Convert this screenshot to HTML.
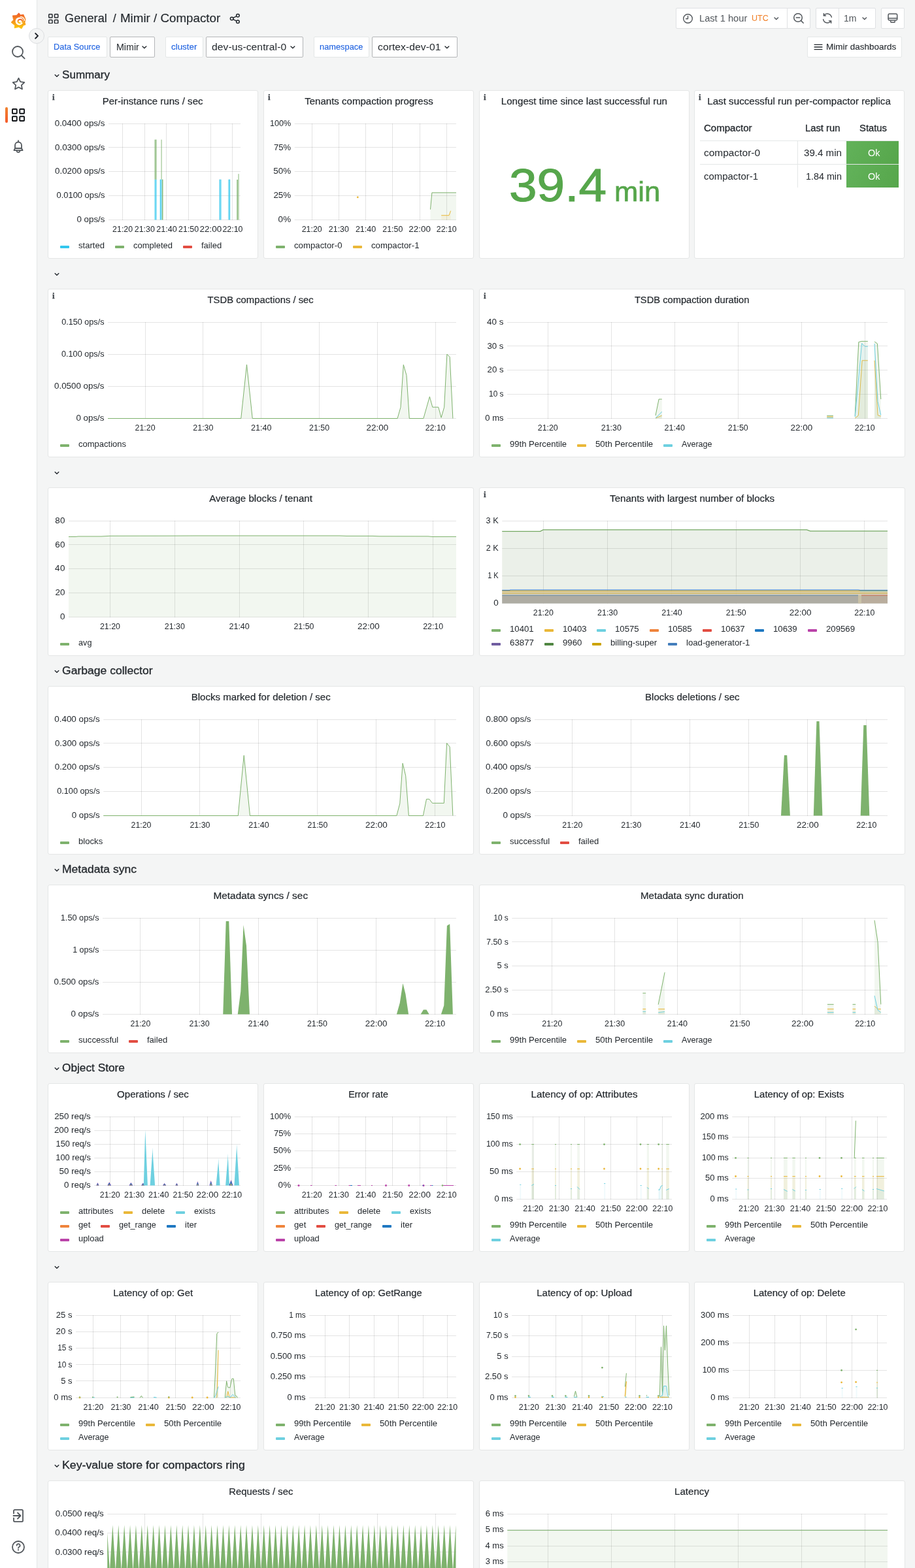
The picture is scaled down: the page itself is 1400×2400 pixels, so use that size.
<!DOCTYPE html><html lang="en"><head><meta charset="utf-8"><title>Mimir / Compactor - Grafana</title>
<meta name="viewport" content="width=1400"><style>
*{box-sizing:border-box;margin:0;padding:0}
html,body{width:1400px;height:2400px;overflow:hidden;background:#f4f5f5}
body{font-family:"Liberation Sans",sans-serif;color:#24292e;font-size:14px;position:relative}
.t{position:absolute;white-space:nowrap;transform-origin:0 0}
.sidemenu{position:absolute;left:0;top:0;width:57px;height:2400px;background:#fff;border-right:1px solid #e4e7e7}
.sidemenu svg{position:absolute}
.sidemenu .active{position:absolute;left:8px;top:164px;width:4px;height:24px;border-radius:2px;background:linear-gradient(#f0832f,#f55a2a)}
.toggle{position:absolute;left:44px;top:43px;width:24px;height:24px;border-radius:50%;background:#f4f5f5;border:1px solid #dcdee0}
.toggle svg{position:absolute;left:0;top:0}
.main{position:absolute;left:0;top:0;width:1400px;height:2400px}
.navbar svg,.submenu svg{position:absolute}
.btn{position:absolute;height:32px;background:#fff;border:1px solid #dfe1e3;border-radius:2px}
.lbl{position:absolute;top:56px;height:32px;background:#fff;border:1px solid #e4e7e7;border-radius:2px}
.sel{position:absolute;top:56px;height:32px;background:#fff;border:1px solid #b4b6b8;border-radius:2px}
.rowt{position:absolute;left:73px;height:30px;width:1311px}
.rowt svg{position:absolute;left:9px;top:12px}
.panel{position:absolute;background:#fff;border:1px solid #e4e6e6;border-radius:3px;overflow:hidden}
.ptitle{position:absolute;left:0;top:2px;width:100%;height:28px;line-height:28px;font-size:14px;font-weight:normal;text-align:center;white-space:nowrap;color:#24292e;-webkit-text-stroke:.2px}
.info{position:absolute;left:6px;top:3px;font-family:"Liberation Serif","DejaVu Serif",serif;font-weight:bold;font-size:13px;line-height:14px;color:#464b51;-webkit-text-stroke:.35px;top:3px}
.plot{position:absolute;left:-1px;top:-1px;font-family:"Liberation Sans",sans-serif}
.legend{position:absolute;left:18px;height:18px;list-style:none;white-space:nowrap;font-size:12px;line-height:18px;color:#24292e}
.legend li{display:inline-block;vertical-align:top;height:18px;white-space:nowrap}
.legend i{display:inline-block;vertical-align:top;width:14px;height:4px;margin:9px 14px 0 0;border-radius:1px}
.legend span{display:inline-block;vertical-align:top}
.legend b{display:inline-block;font-weight:normal;transform-origin:0 0;white-space:nowrap}
.ptitle span{display:inline-block;white-space:nowrap}
.stat .t{-webkit-text-stroke:1.1px #56a64b}
.stat .t+.t{-webkit-text-stroke:.7px #56a64b}
.tbl div{position:absolute}
.tbl .th{left:8px;width:304px;height:38px;border-bottom:1px solid #e4e7e7}
.tbl .tr{left:8px;width:304px;height:37px;border-bottom:1px solid #e4e7e7}
.tbl .vb{width:1px;background:#e4e7e7}
.tbl .ok{width:80px;height:35px;background:linear-gradient(120deg,#62b25a,#56a64b)}
</style></head><body>
<div class="main">
<header class="navbar"><svg style="left:74px;top:20.5px" width="15.5" height="15.5" viewBox="0 0 15.5 15.5"><rect x="0.75" y="0.75" width="5.24" height="5.24" rx="0.8" fill="none" stroke="#24292e" stroke-width="1.5"/><rect x="0.75" y="9.51" width="5.24" height="5.24" rx="0.8" fill="none" stroke="#24292e" stroke-width="1.5"/><rect x="9.51" y="0.75" width="5.24" height="5.24" rx="0.8" fill="none" stroke="#24292e" stroke-width="1.5"/><rect x="9.51" y="9.51" width="5.24" height="5.24" rx="0.8" fill="none" stroke="#24292e" stroke-width="1.5"/></svg><span class="t" style="left:99.4px;top:17px;font-size:18px;line-height:22px;color:#24292e;transform:scaleX(1.012);-webkit-text-stroke:0.15px">General</span><span class="t" style="left:172.8px;top:17px;font-size:18px;line-height:22px;color:#24292e;-webkit-text-stroke:0.15px">/</span><span class="t" style="left:183.6px;top:17px;font-size:18px;line-height:22px;color:#24292e;transform:scaleX(1.042);-webkit-text-stroke:0.15px">Mimir / Compactor</span><svg style="left:350.5px;top:19.5px" width="17" height="17" viewBox="0 0 17 17"><circle cx="12.9" cy="3.7" r="2.3" fill="none" stroke="#24292e" stroke-width="1.5"/><circle cx="3.7" cy="8.5" r="2.3" fill="none" stroke="#24292e" stroke-width="1.5"/><circle cx="12.9" cy="13.3" r="2.3" fill="none" stroke="#24292e" stroke-width="1.5"/><path d="M5.8 7.400L10.8 4.800M5.8 9.600L10.8 12.2" stroke="#24292e" stroke-width="1.5"/></svg><div class="btn" style="left:1034px;top:12px;width:171px;border-radius:2px 0 0 2px"></div><svg style="left:1043.5px;top:19.5px" width="17" height="17" viewBox="0 0 17 17"><circle cx="8.5" cy="8.5" r="6.8" fill="none" stroke="#52575c" stroke-width="1.4"/><path d="M8.5 4.600V8.700H5.6" fill="none" stroke="#52575c" stroke-width="1.4" stroke-linecap="round" stroke-linejoin="round"/></svg><span class="t" style="left:1069.6px;top:19px;font-size:14px;line-height:18px;color:#52575c;transform:scaleX(1.046)">Last 1 hour</span><span class="t" style="left:1149.5px;top:20px;font-size:12px;line-height:16px;color:#f07d23;transform:scaleX(1.042)">UTC</span><svg style="left:1184.3px;top:25.7px" width="7.6" height="5.2" viewBox="0 0 7.6 5.2"><path d="M1 1L3.8 3.8L6.6 1" fill="none" stroke="#52575c" stroke-width="1.4" stroke-linecap="round" stroke-linejoin="round"/></svg><div class="btn" style="left:1204px;top:12px;width:36px;border-radius:0 2px 2px 0"></div><svg style="left:1213px;top:19px" width="18" height="18" viewBox="0 0 18 18"><circle cx="8" cy="8" r="6.3" fill="none" stroke="#52575c" stroke-width="1.5"/><path d="M12.6 12.600L16.2 16.200M5.2 8H10.8" stroke="#52575c" stroke-width="1.5" stroke-linecap="round"/></svg><div class="btn" style="left:1248px;top:12px;width:36px;border-radius:2px 0 0 2px"></div><svg style="left:1257px;top:19px" width="18" height="18" viewBox="0 0 18 18"><path d="M15.3 7.200A6.6 6.6 0 0 0 3.6 4.600M2.7 10.800A6.6 6.6 0 0 0 14.4 13.4" fill="none" stroke="#52575c" stroke-width="1.5" stroke-linecap="round"/><path d="M3.4 1.800V4.900H6.500M14.6 16.200V13.100H11.5" fill="none" stroke="#52575c" stroke-width="1.5" stroke-linecap="round" stroke-linejoin="round"/></svg><div class="btn" style="left:1283px;top:12px;width:57px;border-radius:0 2px 2px 0"></div><span class="t" style="left:1291.4px;top:19px;font-size:14px;line-height:18px;color:#52575c;transform:scaleX(1.003)">1m</span><svg style="left:1319.3px;top:25.7px" width="7.6" height="5.2" viewBox="0 0 7.6 5.2"><path d="M1 1L3.8 3.8L6.6 1" fill="none" stroke="#52575c" stroke-width="1.4" stroke-linecap="round" stroke-linejoin="round"/></svg><div class="btn" style="left:1348px;top:12px;width:36px"></div><svg style="left:1357px;top:19px" width="18" height="18" viewBox="0 0 18 18"><rect x="2.1" y="2.3" width="13.6" height="9.6" rx="1.6" fill="none" stroke="#52575c" stroke-width="1.5"/><path d="M2.3 9.1H15.7M5.8 13.3V14.3a.9.9 0 0 0 .9.9H11.3a.9.9 0 0 0 .9-.9V13.3" fill="none" stroke="#52575c" stroke-width="1.5" stroke-linecap="round"/></svg></header>
<div class="submenu"><div class="lbl" style="left:73px;width:91px"></div><span class="t" style="left:82.3px;top:64px;font-size:12px;line-height:16px;color:#1f62e0;transform:scaleX(1.070);-webkit-text-stroke:0.1px">Data Source</span><div class="sel" style="left:168px;width:69px"></div><span class="t" style="left:177.5px;top:63px;font-size:14px;line-height:18px;color:#24292e;transform:scaleX(1.017)">Mimir</span><svg style="left:216.9px;top:69.6px" width="7.8" height="5.2" viewBox="0 0 7.8 5.2"><path d="M1 1L3.9 3.8L6.8 1" fill="none" stroke="#24292e" stroke-width="1.4" stroke-linecap="round" stroke-linejoin="round"/></svg><div class="lbl" style="left:253px;width:58px"></div><span class="t" style="left:262px;top:64px;font-size:12px;line-height:16px;color:#1f62e0;transform:scaleX(1.115);-webkit-text-stroke:0.1px">cluster</span><div class="sel" style="left:315px;width:149px"></div><span class="t" style="left:324.2px;top:63px;font-size:14px;line-height:18px;color:#24292e;letter-spacing:0.05px;transform:scaleX(1.120)">dev-us-central-0</span><svg style="left:444.1px;top:69.6px" width="7.8" height="5.2" viewBox="0 0 7.8 5.2"><path d="M1 1L3.9 3.8L6.8 1" fill="none" stroke="#24292e" stroke-width="1.4" stroke-linecap="round" stroke-linejoin="round"/></svg><div class="lbl" style="left:480px;width:85px"></div><span class="t" style="left:489.4px;top:64px;font-size:12px;line-height:16px;color:#1f62e0;transform:scaleX(1.069);-webkit-text-stroke:0.1px">namespace</span><div class="sel" style="left:569px;width:131px"></div><span class="t" style="left:578px;top:63px;font-size:14px;line-height:18px;color:#24292e;letter-spacing:0.04px;transform:scaleX(1.120)">cortex-dev-01</span><svg style="left:680.1px;top:69.6px" width="7.8" height="5.2" viewBox="0 0 7.8 5.2"><path d="M1 1L3.9 3.8L6.8 1" fill="none" stroke="#24292e" stroke-width="1.4" stroke-linecap="round" stroke-linejoin="round"/></svg><div class="lbl" style="left:1235px;width:145px"></div><svg style="left:1245px;top:65px" width="14" height="14" viewBox="0 0 14 14"><path d="M0.6 3.4H13.4M0.6 7H13.4M0.6 10.6H13.4" stroke="#24292e" stroke-width="1.3"/></svg><span class="t" style="left:1264.3px;top:64px;font-size:12px;line-height:16px;color:#24292e;letter-spacing:0.02px;transform:scaleX(1.120);-webkit-text-stroke:0.1px">Mimir dashboards</span></div>
<main class="dashboard">
<div class="rowt" style="top:100px"><svg width="10" height="8" viewBox="0 0 10 8"><path d="M2.2 2.6L5 5.3 7.8 2.6" fill="none" stroke="#24292e" stroke-width="1.4" stroke-linecap="round" stroke-linejoin="round"/></svg><span class="t" style="left:22.3px;top:4px;font-size:16px;line-height:21px;color:#24292e;transform:scaleX(1.067);-webkit-text-stroke:0.3px">Summary</span></div>
<section class="panel" style="left:73px;top:138px;width:322px;height:258px"><span class="info">i</span><h2 class="ptitle"><span style="transform:scaleX(1.075)">Per-instance runs / sec</span></h2><svg class="plot" width="322" height="258" viewBox="73 138 322 258"><path d="M166 189.5H368M166 225.5H368M166 262.5H368M166 299.5H368M166 336.5H368" stroke="#000" stroke-opacity="0.105" stroke-width="1" fill="none"/><path d="M187.5 189V337M221.5 189V337M254.5 189V337M288.5 189V337M322.5 189V337M355.5 189V337" stroke="#000" stroke-opacity="0.105" stroke-width="1" fill="none"/><rect x="236.1" y="274.7" width="3.2" height="61.8" fill="#33c7ee" fill-opacity="0.5"/><rect x="237.8" y="274.7" width="1.5" height="61.8" fill="#33c7ee" fill-opacity="0.75"/><rect x="236.1" y="213.7" width="3.2" height="61" fill="#7eb26d" fill-opacity="0.5"/><rect x="237.8" y="213.7" width="1.5" height="61" fill="#7eb26d" fill-opacity="0.75"/><rect x="244.8" y="274.7" width="3.4" height="61.8" fill="#33c7ee" fill-opacity="0.5"/><rect x="244.8" y="274.7" width="1.5" height="61.8" fill="#33c7ee" fill-opacity="0.75"/><rect x="246.2" y="213.7" width="1.8" height="61" fill="#7eb26d" fill-opacity="0.5"/><rect x="248" y="274.7" width="1.4" height="61.8" fill="#7eb26d" fill-opacity="0.5"/><rect x="247.9" y="274.7" width="1.5" height="61.8" fill="#7eb26d" fill-opacity="0.75"/><rect x="335.7" y="274.7" width="3.3" height="61.8" fill="#33c7ee" fill-opacity="0.5"/><rect x="335.7" y="274.7" width="1.5" height="61.8" fill="#33c7ee" fill-opacity="0.75"/><rect x="348.9" y="274.7" width="3.2" height="61.8" fill="#33c7ee" fill-opacity="0.5"/><rect x="350.6" y="274.7" width="1.5" height="61.8" fill="#33c7ee" fill-opacity="0.75"/><rect x="362.4" y="275" width="1.7" height="61.5" fill="#7eb26d" fill-opacity="0.5"/><rect x="362.4" y="275" width="1.5" height="61.5" fill="#7eb26d" fill-opacity="0.75"/><rect x="364.1" y="266.2" width="1.9" height="70.3" fill="#7eb26d" fill-opacity="0.5"/><g fill="#24292e" font-size="12"><text transform="translate(160.5 193.1) scale(1.119 1)" text-anchor="end">0.0400 ops/s</text><text transform="translate(160.5 230.1) scale(1.114 1)" text-anchor="end">0.0300 ops/s</text><text transform="translate(160.5 266.1) scale(1.113 1)" text-anchor="end">0.0200 ops/s</text><text transform="translate(160.5 303.1) scale(1.077 1)" text-anchor="end">0.0100 ops/s</text><text transform="translate(160.5 340.1) scale(1.114 1)" text-anchor="end">0 ops/s</text><text transform="translate(187.61 355.1) scale(1.032 1)" text-anchor="middle">21:20</text><text transform="translate(221.28 355.1) scale(1.036 1)" text-anchor="middle">21:30</text><text transform="translate(254.95 355.1) scale(1.047 1)" text-anchor="middle">21:40</text><text transform="translate(288.61 355.1) scale(1.032 1)" text-anchor="middle">21:50</text><text transform="translate(322.29 355.1) scale(1.120 1)" text-anchor="middle" letter-spacing="0.02">22:00</text><text transform="translate(355.95 355.1) scale(1.032 1)" text-anchor="middle">22:10</text></g></svg><ul class="legend" style="top:228px"><li><i style="background:#33c7ee"></i><span style="width:55.91px"><b style="transform:scaleX(1.088)">started</b></span></li><li><i style="background:#7eb26d"></i><span style="width:75.96px"><b style="transform:scaleX(1.083)">completed</b></span></li><li><i style="background:#e24d42"></i><span style="width:47.15px"><b style="transform:scaleX(1.086)">failed</b></span></li></ul></section>
<section class="panel" style="left:403px;top:138px;width:322px;height:258px"><span class="info">i</span><h2 class="ptitle"><span style="transform:scaleX(1.075)">Tenants compaction progress</span></h2><svg class="plot" width="322" height="258" viewBox="403 138 322 258"><path d="M450.7 189.5H698M450.7 225.5H698M450.7 262.5H698M450.7 299.5H698M450.7 336.5H698" stroke="#000" stroke-opacity="0.105" stroke-width="1" fill="none"/><path d="M477.5 189V337M518.5 189V337M559.5 189V337M600.5 189V337M642.5 189V337M683.5 189V337" stroke="#000" stroke-opacity="0.105" stroke-width="1" fill="none"/><polygon points="658.5,336.5 658.5,320.6 660.9,294.9 698,294.9 698,336.5" fill="#7eb26d" fill-opacity="0.1"/><polyline points="658.5,320.6 660.9,294.9 698,294.9" fill="none" stroke="#7eb26d" stroke-width="1"/><polygon points="675.2,336.5 675.2,329.7 687,329.7 689.6,322.7 689.6,336.5" fill="#eab839" fill-opacity="0.1"/><polyline points="675.2,329.7 687,329.7 689.6,322.7" fill="none" stroke="#eab839" stroke-width="1"/><circle cx="547.3" cy="301.9" r="1.4" fill="#eab839"/><g fill="#24292e" font-size="12"><text transform="translate(445.2 193.1) scale(1.052 1)" text-anchor="end">100%</text><text transform="translate(445.2 230.1) scale(1.088 1)" text-anchor="end">75%</text><text transform="translate(445.27 266.1) scale(1.120 1)" text-anchor="end" letter-spacing="0.07">50%</text><text transform="translate(445.2 303.1) scale(1.116 1)" text-anchor="end">25%</text><text transform="translate(445.42 340.1) scale(1.120 1)" text-anchor="end" letter-spacing="0.2">0%</text><text transform="translate(477.16 355.1) scale(1.032 1)" text-anchor="middle">21:20</text><text transform="translate(518.38 355.1) scale(1.036 1)" text-anchor="middle">21:30</text><text transform="translate(559.59 355.1) scale(1.047 1)" text-anchor="middle">21:40</text><text transform="translate(600.81 355.1) scale(1.032 1)" text-anchor="middle">21:50</text><text transform="translate(642.04 355.1) scale(1.120 1)" text-anchor="middle" letter-spacing="0.02">22:00</text><text transform="translate(683.24 355.1) scale(1.032 1)" text-anchor="middle">22:10</text></g></svg><ul class="legend" style="top:228px"><li><i style="background:#7eb26d"></i><span style="width:89.53px"><b style="transform:scaleX(1.102)">compactor-0</b></span></li><li><i style="background:#eab839"></i><span style="width:89.53px"><b style="transform:scaleX(1.102)">compactor-1</b></span></li></ul></section>
<section class="panel" style="left:733px;top:138px;width:322px;height:258px"><span class="info">i</span><h2 class="ptitle"><span style="transform:scaleX(1.078)">Longest time since last successful run</span></h2><div class="stat"><span class="t" style="left:44.7px;top:100px;font-size:71px;line-height:89px;color:#56a64b;transform:scaleX(1.078)">39.4</span><span class="t" style="left:206.2px;top:128px;font-size:42.5px;line-height:53px;color:#56a64b;transform:scaleX(1.027)">min</span></div></section>
<section class="panel" style="left:1062px;top:138px;width:322px;height:258px"><span class="info">i</span><h2 class="ptitle"><span style="transform:scaleX(1.083)">Last successful run per-compactor replica</span></h2><div class="tbl"><div class="th" style="top:39px"></div><div class="tr" style="top:76px"></div><div class="vb" style="left:157px;top:76px;height:72px"></div><div class="ok" style="left:232px;top:77px"></div><div class="ok" style="left:232px;top:113px"></div></div><span class="t" style="left:14.2px;top:48px;font-size:14px;line-height:18px;color:#24292e;transform:scaleX(1.074);-webkit-text-stroke:0.3px">Compactor</span><span class="t" style="left:168.74px;top:48px;font-size:14px;line-height:18px;color:#24292e;transform:scaleX(1.057);-webkit-text-stroke:0.3px">Last run</span><span class="t" style="left:251.6px;top:48px;font-size:14px;line-height:18px;color:#24292e;transform:scaleX(1.058);-webkit-text-stroke:0.3px">Status</span><span class="t" style="left:14.2px;top:86px;font-size:14px;line-height:18px;color:#24292e;transform:scaleX(1.106)">compactor-0</span><span class="t" style="left:166.69px;top:86px;font-size:14px;line-height:18px;color:#24292e;transform:scaleX(1.079)">39.4 min</span><span class="t" style="left:264.81px;top:86px;font-size:14px;line-height:18px;color:#ffffff;transform:scaleX(1.028)">Ok</span><span class="t" style="left:14.2px;top:122px;font-size:14px;line-height:18px;color:#24292e;transform:scaleX(1.066)">compactor-1</span><span class="t" style="left:169.62px;top:122px;font-size:14px;line-height:18px;color:#24292e;transform:scaleX(1.024)">1.84 min</span><span class="t" style="left:264.81px;top:122px;font-size:14px;line-height:18px;color:#ffffff;transform:scaleX(1.028)">Ok</span></section>
<div class="rowt" style="top:404px"><svg width="10" height="8" viewBox="0 0 10 8"><path d="M2.2 2.6L5 5.3 7.8 2.6" fill="none" stroke="#24292e" stroke-width="1.4" stroke-linecap="round" stroke-linejoin="round"/></svg></div>
<section class="panel" style="left:73px;top:442px;width:652px;height:258px"><span class="info">i</span><h2 class="ptitle"><span style="transform:scaleX(1.058)">TSDB compactions / sec</span></h2><svg class="plot" width="652" height="258" viewBox="73 442 652 258"><path d="M165 493.5H698M165 542.5H698M165 591.5H698M165 640.5H698" stroke="#000" stroke-opacity="0.105" stroke-width="1" fill="none"/><path d="M222.5 493V641M310.5 493V641M399.5 493V641M488.5 493V641M577.5 493V641M666.5 493V641" stroke="#000" stroke-opacity="0.105" stroke-width="1" fill="none"/><polygon points="165,640.5 165,640.5 368.75,640.5 377.5,558 386.25,640.5 608.1,640.5 613,623.4 617.3,558.3 622,574.4 626.3,640.5 647.9,640.5 657.4,607.1 661.8,623.2 670.8,623.2 675.1,639.2 679.7,623.2 683.9,542.1 688.2,546.4 692.9,640.5 692.9,640.5" fill="#7eb26d" fill-opacity="0.1"/><polyline points="165,640.5 368.75,640.5 377.5,558 386.25,640.5 608.1,640.5 613,623.4 617.3,558.3 622,574.4 626.3,640.5 647.9,640.5 657.4,607.1 661.8,623.2 670.8,623.2 675.1,639.2 679.7,623.2 683.9,542.1 688.2,546.4 692.9,640.5" fill="none" stroke="#7eb26d" stroke-width="1"/><g fill="#24292e" font-size="12"><text transform="translate(159.5 497.1) scale(1.053 1)" text-anchor="end">0.150 ops/s</text><text transform="translate(159.5 546.1) scale(1.057 1)" text-anchor="end">0.100 ops/s</text><text transform="translate(159.5 595.1) scale(1.113 1)" text-anchor="end">0.0500 ops/s</text><text transform="translate(159.5 644.1) scale(1.114 1)" text-anchor="end">0 ops/s</text><text transform="translate(222.03 659.1) scale(1.032 1)" text-anchor="middle">21:20</text><text transform="translate(310.86 659.1) scale(1.036 1)" text-anchor="middle">21:30</text><text transform="translate(399.7 659.1) scale(1.047 1)" text-anchor="middle">21:40</text><text transform="translate(488.53 659.1) scale(1.032 1)" text-anchor="middle">21:50</text><text transform="translate(577.38 659.1) scale(1.120 1)" text-anchor="middle" letter-spacing="0.02">22:00</text><text transform="translate(666.2 659.1) scale(1.032 1)" text-anchor="middle">22:10</text></g></svg><ul class="legend" style="top:228px"><li><i style="background:#7eb26d"></i><span style="width:89.07px"><b style="transform:scaleX(1.085)">compactions</b></span></li></ul></section>
<section class="panel" style="left:733px;top:442px;width:652px;height:258px"><span class="info">i</span><h2 class="ptitle"><span style="transform:scaleX(1.049)">TSDB compaction duration</span></h2><svg class="plot" width="652" height="258" viewBox="733 442 652 258"><path d="M776 493.5H1358M776 529.5H1358M776 566.5H1358M776 603.5H1358M776 640.5H1358" stroke="#000" stroke-opacity="0.105" stroke-width="1" fill="none"/><path d="M838.5 493V641M935.5 493V641M1032.5 493V641M1129.5 493V641M1226.5 493V641M1323.5 493V641" stroke="#000" stroke-opacity="0.105" stroke-width="1" fill="none"/><polygon points="1003,640.5 1003,636 1008.1,611 1012.8,611 1012.8,640.5" fill="#7eb26d" fill-opacity="0.1"/><polyline points="1003,636 1008.1,611 1012.8,611" fill="none" stroke="#7eb26d" stroke-width="1"/><polygon points="1003,640.5 1003,640 1012.8,636 1012.8,640.5" fill="#eab839" fill-opacity="0.1"/><polyline points="1003,640 1012.8,636" fill="none" stroke="#eab839" stroke-width="1"/><polygon points="1003,640.5 1003,640 1012.8,630 1012.8,640.5" fill="#6ed0e0" fill-opacity="0.1"/><polyline points="1003,640 1012.8,630" fill="none" stroke="#6ed0e0" stroke-width="1"/><polygon points="1265.2,640.5 1265.2,636.3 1274.9,636.3 1274.9,640.5" fill="#7eb26d" fill-opacity="0.1"/><polyline points="1265.2,636.3 1274.9,636.3" fill="none" stroke="#7eb26d" stroke-width="1"/><polygon points="1265.2,640.5 1265.2,638 1274.9,638 1274.9,640.5" fill="#eab839" fill-opacity="0.1"/><polyline points="1265.2,638 1274.9,638" fill="none" stroke="#eab839" stroke-width="1"/><polygon points="1265.2,640.5 1265.2,639.6 1274.9,639.6 1274.9,640.5" fill="#6ed0e0" fill-opacity="0.1"/><polyline points="1265.2,639.6 1274.9,639.6" fill="none" stroke="#6ed0e0" stroke-width="1"/><polygon points="1308.2,640.5 1308.2,636.5 1313.8,523.6 1318.1,522.4 1327.8,522.4 1327.8,640.5" fill="#7eb26d" fill-opacity="0.1"/><polyline points="1308.2,636.5 1313.8,523.6 1318.1,522.4 1327.8,522.4" fill="none" stroke="#7eb26d" stroke-width="1"/><polygon points="1308.2,640.5 1308.2,640 1313.3,636 1319.1,551.8 1327.8,551.8 1327.8,640.5" fill="#eab839" fill-opacity="0.1"/><polyline points="1308.2,640 1313.3,636 1319.1,551.8 1327.8,551.8" fill="none" stroke="#eab839" stroke-width="1"/><polygon points="1308.2,640.5 1308.2,638 1318.6,525.6 1323.5,530.2 1327.8,530.2 1327.8,640.5" fill="#6ed0e0" fill-opacity="0.1"/><polyline points="1308.2,638 1318.6,525.6 1323.5,530.2 1327.8,530.2" fill="none" stroke="#6ed0e0" stroke-width="1"/><polygon points="1338,640.5 1338,522.9 1342.4,526 1347.8,611 1347.8,640.5" fill="#7eb26d" fill-opacity="0.1"/><polyline points="1338,522.9 1342.4,526 1347.8,611" fill="none" stroke="#7eb26d" stroke-width="1"/><polygon points="1338,640.5 1338,551.8 1343.1,635.6 1347.8,637 1347.8,640.5" fill="#eab839" fill-opacity="0.1"/><polyline points="1338,551.8 1343.1,635.6 1347.8,637" fill="none" stroke="#eab839" stroke-width="1"/><polygon points="1338,640.5 1338,526 1343.1,614.7 1347.8,635.3 1347.8,640.5" fill="#6ed0e0" fill-opacity="0.1"/><polyline points="1338,526 1343.1,614.7 1347.8,635.3" fill="none" stroke="#6ed0e0" stroke-width="1"/><g fill="#24292e" font-size="12"><text transform="translate(770.5 497.1) scale(1.120 1)" text-anchor="end">40 s</text><text transform="translate(770.5 534.1) scale(1.105 1)" text-anchor="end">30 s</text><text transform="translate(770.5 570.1) scale(1.101 1)" text-anchor="end">20 s</text><text transform="translate(770.5 607.1) scale(0.992 1)" text-anchor="end">10 s</text><text transform="translate(770.5 644.1) scale(1.085 1)" text-anchor="end">0 ms</text><text transform="translate(838.27 659.1) scale(1.032 1)" text-anchor="middle">21:20</text><text transform="translate(935.27 659.1) scale(1.036 1)" text-anchor="middle">21:30</text><text transform="translate(1032.27 659.1) scale(1.047 1)" text-anchor="middle">21:40</text><text transform="translate(1129.27 659.1) scale(1.032 1)" text-anchor="middle">21:50</text><text transform="translate(1226.29 659.1) scale(1.120 1)" text-anchor="middle" letter-spacing="0.02">22:00</text><text transform="translate(1323.27 659.1) scale(1.032 1)" text-anchor="middle">22:10</text></g></svg><ul class="legend" style="top:228px"><li><i style="background:#7eb26d"></i><span style="width:103.1px"><b style="transform:scaleX(1.088)">99th Percentile</b></span></li><li><i style="background:#eab839"></i><span style="width:104.2px"><b style="transform:scaleX(1.102)">50th Percentile</b></span></li><li><i style="background:#6ed0e0"></i><span style="width:62.58px"><b style="transform:scaleX(1.047)">Average</b></span></li></ul></section>
<div class="rowt" style="top:708px"><svg width="10" height="8" viewBox="0 0 10 8"><path d="M2.2 2.6L5 5.3 7.8 2.6" fill="none" stroke="#24292e" stroke-width="1.4" stroke-linecap="round" stroke-linejoin="round"/></svg></div>
<section class="panel" style="left:73px;top:746px;width:652px;height:258px"><h2 class="ptitle"><span style="transform:scaleX(1.080)">Average blocks / tenant</span></h2><svg class="plot" width="652" height="258" viewBox="73 746 652 258"><path d="M105 797.5H698M105 833.5H698M105 870.5H698M105 907.5H698M105 944.5H698" stroke="#000" stroke-opacity="0.105" stroke-width="1" fill="none"/><path d="M168.5 797V945M267.5 797V945M366.5 797V945M464.5 797V945M563.5 797V945M662.5 797V945" stroke="#000" stroke-opacity="0.105" stroke-width="1" fill="none"/><polygon points="105,944.5 105,821.5 115,821.5 120,821 155,821 168,820.3 250,820.2 300,820 520,820 530,820.4 570,820.4 580,820.8 655,820.9 662,821.5 698,821.4 698,944.5" fill="#7eb26d" fill-opacity="0.1"/><polyline points="105,821.5 115,821.5 120,821 155,821 168,820.3 250,820.2 300,820 520,820 530,820.4 570,820.4 580,820.8 655,820.9 662,821.5 698,821.4" fill="none" stroke="#7eb26d" stroke-width="1"/><g fill="#24292e" font-size="12"><text transform="translate(99.77 801.1) scale(1.120 1)" text-anchor="end" letter-spacing="0.24">80</text><text transform="translate(99.79 838.1) scale(1.120 1)" text-anchor="end" letter-spacing="0.26">60</text><text transform="translate(100.1 874.1) scale(1.120 1)" text-anchor="end" letter-spacing="0.54">40</text><text transform="translate(99.66 911.1) scale(1.120 1)" text-anchor="end" letter-spacing="0.14">20</text><text transform="translate(99.5 948.1) scale(1.120 1)" text-anchor="end">0</text><text transform="translate(168.45 963.1) scale(1.032 1)" text-anchor="middle">21:20</text><text transform="translate(267.28 963.1) scale(1.036 1)" text-anchor="middle">21:30</text><text transform="translate(366.12 963.1) scale(1.047 1)" text-anchor="middle">21:40</text><text transform="translate(464.95 963.1) scale(1.032 1)" text-anchor="middle">21:50</text><text transform="translate(563.8 963.1) scale(1.120 1)" text-anchor="middle" letter-spacing="0.02">22:00</text><text transform="translate(662.62 963.1) scale(1.032 1)" text-anchor="middle">22:10</text></g></svg><ul class="legend" style="top:228px"><li><i style="background:#7eb26d"></i><span style="width:36.43px"><b style="transform:scaleX(1.056)">avg</b></span></li></ul></section>
<section class="panel" style="left:733px;top:746px;width:652px;height:258px"><span class="info">i</span><h2 class="ptitle"><span style="transform:scaleX(1.076)">Tenants with largest number of blocks</span></h2><svg class="plot" width="652" height="258" viewBox="733 746 652 258"><path d="M768.2 797.5H1358M768.2 839.5H1358M768.2 881.5H1358M768.2 923.5H1358" stroke="#000" stroke-opacity="0.105" stroke-width="1" fill="none"/><path d="M831.5 797V924M929.5 797V924M1027.5 797V924M1126.5 797V924M1224.5 797V924M1322.5 797V924" stroke="#000" stroke-opacity="0.105" stroke-width="1" fill="none"/><polygon points="768.2,923.5 768.2,813.4 826.5,813.4 831.1,810.9 1234.4,810.9 1239.7,812.9 1358,812.9 1358,923.5" fill="#709462" fill-opacity="0.14"/><polyline points="768.2,813.4 826.5,813.4 831.1,810.9 1234.4,810.9 1239.7,812.9 1358,812.9" fill="none" stroke="#74a863" stroke-width="1.25"/><rect x="768.2" y="912" width="544.8" height="11.5" fill="#aeaca3"/><rect x="1313" y="912" width="45" height="11.5" fill="#b9ad9d"/><rect x="1313" y="910.3" width="5" height="13.2" fill="#c9c1a6"/><rect x="768.2" y="910.3" width="544.8" height="1.8" fill="#7f97a6"/><rect x="1318" y="910.3" width="40" height="1.8" fill="#c4806a"/><rect x="768.2" y="908.3" width="589.8" height="2" fill="#d8cdb4"/><rect x="768.2" y="906.9" width="589.8" height="1.4" fill="#c9ac42"/><rect x="768.2" y="905.2" width="589.8" height="1.7" fill="#e2dcd8"/><rect x="768.2" y="904" width="547.8" height="1.3" fill="#c8a21e"/><rect x="1316" y="904" width="42" height="1.3" fill="#86a86c"/><polyline points="768.2,903.5 779,903.5 781,902.9 1313,902.9 1316,903.4 1358,903.4" fill="none" stroke="#5b8ec8" stroke-width="1.3"/><g fill="#24292e" font-size="12"><text transform="translate(762.7 801.1) scale(1.062 1)" text-anchor="end">3 K</text><text transform="translate(762.7 843.1) scale(1.057 1)" text-anchor="end">2 K</text><text transform="translate(762.7 885.1) scale(0.920 1)" text-anchor="end">1 K</text><text transform="translate(762.7 927.1) scale(1.120 1)" text-anchor="end">0</text><text transform="translate(831.31 942.1) scale(1.032 1)" text-anchor="middle">21:20</text><text transform="translate(929.61 942.1) scale(1.036 1)" text-anchor="middle">21:30</text><text transform="translate(1027.91 942.1) scale(1.047 1)" text-anchor="middle">21:40</text><text transform="translate(1126.21 942.1) scale(1.032 1)" text-anchor="middle">21:50</text><text transform="translate(1224.52 942.1) scale(1.120 1)" text-anchor="middle" letter-spacing="0.02">22:00</text><text transform="translate(1322.81 942.1) scale(1.032 1)" text-anchor="middle">22:10</text></g></svg><ul class="legend" style="top:207px"><li><i style="background:#7eb26d"></i><span style="width:52.7px"><b style="transform:scaleX(1.100)">10401</b></span></li><li><i style="background:#eab839"></i><span style="width:52.7px"><b style="transform:scaleX(1.100)">10403</b></span></li><li><i style="background:#6ed0e0"></i><span style="width:52.58px"><b style="transform:scaleX(1.096)">10575</b></span></li><li><i style="background:#ef843c"></i><span style="width:52.7px"><b style="transform:scaleX(1.100)">10585</b></span></li><li><i style="background:#e24d42"></i><span style="width:52.7px"><b style="transform:scaleX(1.100)">10637</b></span></li><li><i style="background:#1f78c1"></i><span style="width:52.7px"><b style="transform:scaleX(1.100)">10639</b></span></li><li><i style="background:#ba43a9"></i><span style="width:60.04px"><b style="transform:scaleX(1.100)">209569</b></span></li></ul><ul class="legend" style="top:228px"><li><i style="background:#705da0"></i><span style="width:52.93px"><b style="transform:scaleX(1.107)">63877</b></span></li><li><i style="background:#508642"></i><span style="width:45.36px"><b style="transform:scaleX(1.100)">9960</b></span></li><li><i style="background:#cca300"></i><span style="width:87.23px"><b style="transform:scaleX(1.101)">billing-super</b></span></li><li><i style="background:#447ebc"></i><span style="width:113.43px"><b style="transform:scaleX(1.098)">load-generator-1</b></span></li></ul></section>
<div class="rowt" style="top:1012px"><svg width="10" height="8" viewBox="0 0 10 8"><path d="M2.2 2.6L5 5.3 7.8 2.6" fill="none" stroke="#24292e" stroke-width="1.4" stroke-linecap="round" stroke-linejoin="round"/></svg><span class="t" style="left:22.3px;top:4px;font-size:16px;line-height:21px;color:#24292e;transform:scaleX(1.097);-webkit-text-stroke:0.3px">Garbage collector</span></div>
<section class="panel" style="left:73px;top:1050px;width:652px;height:258px"><h2 class="ptitle"><span style="transform:scaleX(1.073)">Blocks marked for deletion / sec</span></h2><svg class="plot" width="652" height="258" viewBox="73 1050 652 258"><path d="M158.25 1101.5H698M158.25 1137.5H698M158.25 1174.5H698M158.25 1211.5H698M158.25 1248.5H698" stroke="#000" stroke-opacity="0.105" stroke-width="1" fill="none"/><path d="M216.5 1101V1249M305.5 1101V1249M395.5 1101V1249M485.5 1101V1249M575.5 1101V1249M665.5 1101V1249" stroke="#000" stroke-opacity="0.105" stroke-width="1" fill="none"/><polygon points="158.25,1248.5 158.25,1248.5 364.25,1248.5 373.25,1156.25 382.5,1248.5 606.9,1248.5 611.8,1229.8 616.1,1168.3 620.7,1187.3 625.4,1248.5 647.4,1248.5 652.5,1223.2 656.9,1223.2 661.5,1229.3 679.3,1229.3 683.6,1137.5 688.2,1143.1 692.9,1248.5 692.9,1248.5" fill="#7eb26d" fill-opacity="0.1"/><polyline points="158.25,1248.5 364.25,1248.5 373.25,1156.25 382.5,1248.5 606.9,1248.5 611.8,1229.8 616.1,1168.3 620.7,1187.3 625.4,1248.5 647.4,1248.5 652.5,1223.2 656.9,1223.2 661.5,1229.3 679.3,1229.3 683.6,1137.5 688.2,1143.1 692.9,1248.5" fill="none" stroke="#7eb26d" stroke-width="1"/><g fill="#24292e" font-size="12"><text transform="translate(152.76 1105.1) scale(1.120 1)" text-anchor="end" letter-spacing="0.01">0.400 ops/s</text><text transform="translate(152.75 1142.1) scale(1.110 1)" text-anchor="end">0.300 ops/s</text><text transform="translate(152.75 1178.1) scale(1.114 1)" text-anchor="end">0.200 ops/s</text><text transform="translate(152.75 1215.1) scale(1.057 1)" text-anchor="end">0.100 ops/s</text><text transform="translate(152.75 1252.1) scale(1.114 1)" text-anchor="end">0 ops/s</text><text transform="translate(216 1267.1) scale(1.032 1)" text-anchor="middle">21:20</text><text transform="translate(305.96 1267.1) scale(1.036 1)" text-anchor="middle">21:30</text><text transform="translate(395.92 1267.1) scale(1.047 1)" text-anchor="middle">21:40</text><text transform="translate(485.88 1267.1) scale(1.032 1)" text-anchor="middle">21:50</text><text transform="translate(575.85 1267.1) scale(1.120 1)" text-anchor="middle" letter-spacing="0.02">22:00</text><text transform="translate(665.79 1267.1) scale(1.032 1)" text-anchor="middle">22:10</text></g></svg><ul class="legend" style="top:228px"><li><i style="background:#7eb26d"></i><span style="width:53.22px"><b style="transform:scaleX(1.094)">blocks</b></span></li></ul></section>
<section class="panel" style="left:733px;top:1050px;width:652px;height:258px"><h2 class="ptitle"><span style="transform:scaleX(1.074)">Blocks deletions / sec</span></h2><svg class="plot" width="652" height="258" viewBox="733 1050 652 258"><path d="M818 1101.5H1358M818 1137.5H1358M818 1174.5H1358M818 1211.5H1358M818 1248.5H1358" stroke="#000" stroke-opacity="0.105" stroke-width="1" fill="none"/><path d="M875.5 1101V1249M965.5 1101V1249M1055.5 1101V1249M1145.5 1101V1249M1235.5 1101V1249M1325.5 1101V1249" stroke="#000" stroke-opacity="0.105" stroke-width="1" fill="none"/><polygon points="1195,1248.5 1199.9,1156.1 1204.2,1156.1 1208.9,1248.5" fill="#7eb26d"/><polygon points="1244.8,1248.5 1249.4,1103.9 1253.5,1103.9 1258.4,1248.5" fill="#7eb26d"/><polygon points="1316.7,1248.5 1321.3,1109.9 1325.7,1109.9 1330.3,1248.5" fill="#7eb26d"/><g fill="#24292e" font-size="12"><text transform="translate(812.5 1105.1) scale(1.111 1)" text-anchor="end">0.800 ops/s</text><text transform="translate(812.5 1142.1) scale(1.111 1)" text-anchor="end">0.600 ops/s</text><text transform="translate(812.51 1178.1) scale(1.120 1)" text-anchor="end" letter-spacing="0.01">0.400 ops/s</text><text transform="translate(812.5 1215.1) scale(1.114 1)" text-anchor="end">0.200 ops/s</text><text transform="translate(812.5 1252.1) scale(1.114 1)" text-anchor="end">0 ops/s</text><text transform="translate(875.78 1267.1) scale(1.032 1)" text-anchor="middle">21:20</text><text transform="translate(965.78 1267.1) scale(1.036 1)" text-anchor="middle">21:30</text><text transform="translate(1055.78 1267.1) scale(1.047 1)" text-anchor="middle">21:40</text><text transform="translate(1145.78 1267.1) scale(1.032 1)" text-anchor="middle">21:50</text><text transform="translate(1235.79 1267.1) scale(1.120 1)" text-anchor="middle" letter-spacing="0.02">22:00</text><text transform="translate(1325.78 1267.1) scale(1.032 1)" text-anchor="middle">22:10</text></g></svg><ul class="legend" style="top:228px"><li><i style="background:#7eb26d"></i><span style="width:77.25px"><b style="transform:scaleX(1.093)">successful</b></span></li><li><i style="background:#e24d42"></i><span style="width:47.15px"><b style="transform:scaleX(1.086)">failed</b></span></li></ul></section>
<div class="rowt" style="top:1316px"><svg width="10" height="8" viewBox="0 0 10 8"><path d="M2.2 2.6L5 5.3 7.8 2.6" fill="none" stroke="#24292e" stroke-width="1.4" stroke-linecap="round" stroke-linejoin="round"/></svg><span class="t" style="left:22.3px;top:4px;font-size:16px;line-height:21px;color:#24292e;transform:scaleX(1.096);-webkit-text-stroke:0.3px">Metadata sync</span></div>
<section class="panel" style="left:73px;top:1354px;width:652px;height:258px"><h2 class="ptitle"><span style="transform:scaleX(1.100)">Metadata syncs / sec</span></h2><svg class="plot" width="652" height="258" viewBox="73 1354 652 258"><path d="M157 1405.5H698M157 1454.5H698M157 1503.5H698M157 1552.5H698" stroke="#000" stroke-opacity="0.105" stroke-width="1" fill="none"/><path d="M214.5 1405V1553M305.5 1405V1553M395.5 1405V1553M485.5 1405V1553M575.5 1405V1553M665.5 1405V1553" stroke="#000" stroke-opacity="0.105" stroke-width="1" fill="none"/><polygon points="341.25,1552.5 345.75,1410 350.25,1410 355,1552.5" fill="#7eb26d"/><polygon points="363.75,1552.5 368.25,1517.5 372.5,1415.75 377,1447.5 382,1552.5" fill="#7eb26d"/><polygon points="606.9,1552.5 611.8,1534.9 616.4,1505 620.5,1521.6 625.1,1552.5" fill="#7eb26d"/><polygon points="643.6,1552.5 647.9,1545.4 652.5,1545.4 656.7,1552.5" fill="#7eb26d"/><polygon points="674.9,1552.5 679.3,1539 683.9,1417.1 688.2,1414.2 692.9,1552.5" fill="#7eb26d"/><g fill="#24292e" font-size="12"><text transform="translate(151.5 1409.1) scale(1.062 1)" text-anchor="end">1.50 ops/s</text><text transform="translate(151.5 1458.1) scale(1.044 1)" text-anchor="end">1 ops/s</text><text transform="translate(151.5 1507.1) scale(1.111 1)" text-anchor="end">0.500 ops/s</text><text transform="translate(151.5 1556.1) scale(1.114 1)" text-anchor="end">0 ops/s</text><text transform="translate(214.89 1571.1) scale(1.032 1)" text-anchor="middle">21:20</text><text transform="translate(305.05 1571.1) scale(1.036 1)" text-anchor="middle">21:30</text><text transform="translate(395.22 1571.1) scale(1.047 1)" text-anchor="middle">21:40</text><text transform="translate(485.39 1571.1) scale(1.032 1)" text-anchor="middle">21:50</text><text transform="translate(575.57 1571.1) scale(1.120 1)" text-anchor="middle" letter-spacing="0.02">22:00</text><text transform="translate(665.72 1571.1) scale(1.032 1)" text-anchor="middle">22:10</text></g></svg><ul class="legend" style="top:228px"><li><i style="background:#7eb26d"></i><span style="width:77.25px"><b style="transform:scaleX(1.093)">successful</b></span></li><li><i style="background:#e24d42"></i><span style="width:47.15px"><b style="transform:scaleX(1.086)">failed</b></span></li></ul></section>
<section class="panel" style="left:733px;top:1354px;width:652px;height:258px"><h2 class="ptitle"><span style="transform:scaleX(1.084)">Metadata sync duration</span></h2><svg class="plot" width="652" height="258" viewBox="733 1354 652 258"><path d="M783.3 1405.5H1358M783.3 1441.5H1358M783.3 1478.5H1358M783.3 1515.5H1358M783.3 1552.5H1358" stroke="#000" stroke-opacity="0.105" stroke-width="1" fill="none"/><path d="M844.5 1405V1553M940.5 1405V1553M1036.5 1405V1553M1132.5 1405V1553M1227.5 1405V1553M1323.5 1405V1553" stroke="#000" stroke-opacity="0.105" stroke-width="1" fill="none"/><polygon points="983.4,1552.5 983.4,1520.1 988.2,1520.1 988.2,1552.5" fill="#7eb26d" fill-opacity="0.1"/><polyline points="983.4,1520.1 988.2,1520.1" fill="none" stroke="#7eb26d" stroke-width="1"/><polygon points="983.4,1552.5 983.4,1544.4 988.2,1544.4 988.2,1552.5" fill="#eab839" fill-opacity="0.1"/><polyline points="983.4,1544.4 988.2,1544.4" fill="none" stroke="#eab839" stroke-width="1"/><polygon points="983.4,1552.5 983.4,1548.3 988.2,1548.3 988.2,1552.5" fill="#6ed0e0" fill-opacity="0.1"/><polyline points="983.4,1548.3 988.2,1548.3" fill="none" stroke="#6ed0e0" stroke-width="1"/><polygon points="1007.2,1552.5 1007.2,1537.6 1017.1,1488.3 1017.1,1552.5" fill="#7eb26d" fill-opacity="0.1"/><polyline points="1007.2,1537.6 1017.1,1488.3" fill="none" stroke="#7eb26d" stroke-width="1"/><polygon points="1007.2,1552.5 1007.2,1544.4 1017.1,1544.4 1017.1,1552.5" fill="#eab839" fill-opacity="0.1"/><polyline points="1007.2,1544.4 1017.1,1544.4" fill="none" stroke="#eab839" stroke-width="1"/><polygon points="1007.2,1552.5 1007.2,1549.7 1017.1,1548.5 1017.1,1552.5" fill="#6ed0e0" fill-opacity="0.1"/><polyline points="1007.2,1549.7 1017.1,1548.5" fill="none" stroke="#6ed0e0" stroke-width="1"/><polygon points="1265.9,1552.5 1265.9,1537.3 1275.6,1537.3 1275.6,1552.5" fill="#7eb26d" fill-opacity="0.1"/><polyline points="1265.9,1537.3 1275.6,1537.3" fill="none" stroke="#7eb26d" stroke-width="1"/><polygon points="1265.9,1552.5 1265.9,1544.4 1275.6,1544.4 1275.6,1552.5" fill="#eab839" fill-opacity="0.1"/><polyline points="1265.9,1544.4 1275.6,1544.4" fill="none" stroke="#eab839" stroke-width="1"/><polygon points="1265.9,1552.5 1265.9,1549.5 1275.6,1549.5 1275.6,1552.5" fill="#6ed0e0" fill-opacity="0.1"/><polyline points="1265.9,1549.5 1275.6,1549.5" fill="none" stroke="#6ed0e0" stroke-width="1"/><polygon points="1304.5,1552.5 1304.5,1537.3 1309.2,1537.3 1309.2,1552.5" fill="#7eb26d" fill-opacity="0.1"/><polyline points="1304.5,1537.3 1309.2,1537.3" fill="none" stroke="#7eb26d" stroke-width="1"/><polygon points="1304.5,1552.5 1304.5,1544.4 1309.2,1544.4 1309.2,1552.5" fill="#eab839" fill-opacity="0.1"/><polyline points="1304.5,1544.4 1309.2,1544.4" fill="none" stroke="#eab839" stroke-width="1"/><polygon points="1304.5,1552.5 1304.5,1549.5 1309.2,1549.5 1309.2,1552.5" fill="#6ed0e0" fill-opacity="0.1"/><polyline points="1304.5,1549.5 1309.2,1549.5" fill="none" stroke="#6ed0e0" stroke-width="1"/><polygon points="1338,1552.5 1338,1408.6 1343.1,1442.1 1347.8,1537.3 1347.8,1552.5" fill="#7eb26d" fill-opacity="0.1"/><polyline points="1338,1408.6 1343.1,1442.1 1347.8,1537.3" fill="none" stroke="#7eb26d" stroke-width="1"/><polygon points="1338,1552.5 1338,1540 1343.1,1544.4 1347.8,1544.4 1347.8,1552.5" fill="#eab839" fill-opacity="0.1"/><polyline points="1338,1540 1343.1,1544.4 1347.8,1544.4" fill="none" stroke="#eab839" stroke-width="1"/><polygon points="1338,1552.5 1338,1524 1343.1,1546.1 1347.8,1549.7 1347.8,1552.5" fill="#6ed0e0" fill-opacity="0.1"/><polyline points="1338,1524 1343.1,1546.1 1347.8,1549.7" fill="none" stroke="#6ed0e0" stroke-width="1"/><g fill="#24292e" font-size="12"><text transform="translate(777.8 1409.1) scale(0.992 1)" text-anchor="end">10 s</text><text transform="translate(777.8 1446.1) scale(1.029 1)" text-anchor="end">7.50 s</text><text transform="translate(777.8 1482.1) scale(1.078 1)" text-anchor="end">5 s</text><text transform="translate(777.8 1519.1) scale(1.092 1)" text-anchor="end">2.50 s</text><text transform="translate(777.8 1556.1) scale(1.085 1)" text-anchor="end">0 ms</text><text transform="translate(844.79 1571.1) scale(1.032 1)" text-anchor="middle">21:20</text><text transform="translate(940.58 1571.1) scale(1.036 1)" text-anchor="middle">21:30</text><text transform="translate(1036.36 1571.1) scale(1.047 1)" text-anchor="middle">21:40</text><text transform="translate(1132.14 1571.1) scale(1.032 1)" text-anchor="middle">21:50</text><text transform="translate(1227.94 1571.1) scale(1.120 1)" text-anchor="middle" letter-spacing="0.02">22:00</text><text transform="translate(1323.71 1571.1) scale(1.032 1)" text-anchor="middle">22:10</text></g></svg><ul class="legend" style="top:228px"><li><i style="background:#7eb26d"></i><span style="width:103.1px"><b style="transform:scaleX(1.088)">99th Percentile</b></span></li><li><i style="background:#eab839"></i><span style="width:104.2px"><b style="transform:scaleX(1.102)">50th Percentile</b></span></li><li><i style="background:#6ed0e0"></i><span style="width:62.58px"><b style="transform:scaleX(1.047)">Average</b></span></li></ul></section>
<div class="rowt" style="top:1620px"><svg width="10" height="8" viewBox="0 0 10 8"><path d="M2.2 2.6L5 5.3 7.8 2.6" fill="none" stroke="#24292e" stroke-width="1.4" stroke-linecap="round" stroke-linejoin="round"/></svg><span class="t" style="left:22.3px;top:4px;font-size:16px;line-height:21px;color:#24292e;transform:scaleX(1.078);-webkit-text-stroke:0.3px">Object Store</span></div>
<section class="panel" style="left:73px;top:1658px;width:322px;height:258px"><h2 class="ptitle"><span style="transform:scaleX(1.077)">Operations / sec</span></h2><svg class="plot" width="322" height="258" viewBox="73 1658 322 258"><path d="M144.3 1709.5H368M144.3 1730.5H368M144.3 1751.5H368M144.3 1772.5H368M144.3 1793.5H368M144.3 1814.5H368" stroke="#000" stroke-opacity="0.105" stroke-width="1" fill="none"/><path d="M168.5 1709V1815M205.5 1709V1815M242.5 1709V1815M280.5 1709V1815M317.5 1709V1815M354.5 1709V1815" stroke="#000" stroke-opacity="0.105" stroke-width="1" fill="none"/><polygon points="147.4,1814.5 149.4,1810.1 151.4,1814.5" fill="#ba43a9"/><polygon points="147.65,1814.5 149.4,1810.72 151.15,1814.5" fill="#1f78c1"/><polygon points="148.44,1814.5 149.4,1812.65 150.36,1814.5" fill="#ef843c"/><polygon points="148.91,1814.5 149.4,1813.8 149.89,1814.5" fill="#6ed0e0"/><polygon points="164.4,1814.5 167.2,1809.3 170,1814.5" fill="#ba43a9"/><polygon points="164.76,1814.5 167.2,1810.03 169.64,1814.5" fill="#1f78c1"/><polygon points="165.91,1814.5 167.2,1812.32 168.49,1814.5" fill="#ef843c"/><polygon points="166.58,1814.5 167.2,1813.67 167.82,1814.5" fill="#6ed0e0"/><polygon points="197.6,1814.5 200.4,1809.9 203.2,1814.5" fill="#ba43a9"/><polygon points="197.96,1814.5 200.4,1810.54 202.84,1814.5" fill="#1f78c1"/><polygon points="199.11,1814.5 200.4,1812.57 201.69,1814.5" fill="#ef843c"/><polygon points="199.78,1814.5 200.4,1813.76 201.02,1814.5" fill="#6ed0e0"/><polygon points="216.2,1814.5 218.8,1810.5 221.4,1814.5" fill="#ba43a9"/><polygon points="216.54,1814.5 218.8,1811.06 221.06,1814.5" fill="#1f78c1"/><polygon points="217.59,1814.5 218.8,1812.82 220.01,1814.5" fill="#ef843c"/><polygon points="218.22,1814.5 218.8,1813.86 219.38,1814.5" fill="#6ed0e0"/><polygon points="249,1814.5 251.6,1810.9 254.2,1814.5" fill="#ba43a9"/><polygon points="249.34,1814.5 251.6,1811.4 253.86,1814.5" fill="#1f78c1"/><polygon points="250.39,1814.5 251.6,1812.99 252.81,1814.5" fill="#ef843c"/><polygon points="251.02,1814.5 251.6,1813.92 252.18,1814.5" fill="#6ed0e0"/><polygon points="268.4,1814.5 270.4,1810.7 272.4,1814.5" fill="#ba43a9"/><polygon points="268.65,1814.5 270.4,1811.23 272.15,1814.5" fill="#1f78c1"/><polygon points="269.44,1814.5 270.4,1812.9 271.36,1814.5" fill="#ef843c"/><polygon points="269.91,1814.5 270.4,1813.89 270.89,1814.5" fill="#6ed0e0"/><polygon points="300.4,1814.5 302.4,1808 304.4,1814.5" fill="#ba43a9"/><polygon points="300.65,1814.5 302.4,1808.91 304.15,1814.5" fill="#1f78c1"/><polygon points="301.44,1814.5 302.4,1811.77 303.36,1814.5" fill="#eab839"/><polygon points="301.91,1814.5 302.4,1813.46 302.89,1814.5" fill="#6ed0e0"/><polygon points="320.5,1814.5 322.7,1806.8 324.9,1814.5" fill="#ba43a9"/><polygon points="320.78,1814.5 322.7,1807.88 324.62,1814.5" fill="#1f78c1"/><polygon points="321.66,1814.5 322.7,1811.27 323.74,1814.5" fill="#eab839"/><polygon points="322.18,1814.5 322.7,1813.27 323.22,1814.5" fill="#6ed0e0"/><polygon points="350.5,1814.5 353.5,1805.9 356.5,1814.5" fill="#ba43a9"/><polygon points="350.89,1814.5 353.5,1807.1 356.11,1814.5" fill="#1f78c1"/><polygon points="352.12,1814.5 353.5,1810.89 354.88,1814.5" fill="#eab839"/><polygon points="352.85,1814.5 353.5,1813.12 354.15,1814.5" fill="#6ed0e0"/><polygon points="219.8,1814.5 222,1737.5 222.3,1729.5 222.6,1737.5 225.9,1814.5" fill="#6ed0e0"/><polygon points="229.6,1814.5 233.1,1764.3 233.4,1756.3 233.7,1764.3 237.1,1814.5" fill="#6ed0e0"/><polygon points="330.5,1814.5 333.9,1780.3 334.2,1772.3 334.5,1780.3 336.6,1814.5" fill="#6ed0e0"/><polygon points="345.1,1814.5 348.4,1773.5 348.7,1765.5 349,1773.5 351.1,1814.5" fill="#6ed0e0"/><polygon points="358.4,1814.5 361.9,1758.9 362.2,1750.9 362.5,1758.9 366,1814.5" fill="#6ed0e0"/><g fill="#24292e" font-size="12"><text transform="translate(138.8 1713.1) scale(1.113 1)" text-anchor="end">250 req/s</text><text transform="translate(138.8 1734.1) scale(1.119 1)" text-anchor="end">200 req/s</text><text transform="translate(138.8 1755.1) scale(1.064 1)" text-anchor="end">150 req/s</text><text transform="translate(138.8 1776.1) scale(1.069 1)" text-anchor="end">100 req/s</text><text transform="translate(138.8 1797.1) scale(1.113 1)" text-anchor="end">50 req/s</text><text transform="translate(138.8 1818.1) scale(1.114 1)" text-anchor="end">0 req/s</text><text transform="translate(168.24 1833.1) scale(1.032 1)" text-anchor="middle">21:20</text><text transform="translate(205.52 1833.1) scale(1.036 1)" text-anchor="middle">21:30</text><text transform="translate(242.8 1833.1) scale(1.047 1)" text-anchor="middle">21:40</text><text transform="translate(280.09 1833.1) scale(1.032 1)" text-anchor="middle">21:50</text><text transform="translate(317.38 1833.1) scale(1.120 1)" text-anchor="middle" letter-spacing="0.02">22:00</text><text transform="translate(354.65 1833.1) scale(1.032 1)" text-anchor="middle">22:10</text></g></svg><ul class="legend" style="top:186px"><li><i style="background:#7eb26d"></i><span style="width:69.49px"><b style="transform:scaleX(1.084)">attributes</b></span></li><li><i style="background:#eab839"></i><span style="width:51.05px"><b style="transform:scaleX(1.072)">delete</b></span></li><li><i style="background:#6ed0e0"></i><span style="width:48.66px"><b style="transform:scaleX(1.065)">exists</b></span></li></ul><ul class="legend" style="top:207px"><li><i style="background:#ef843c"></i><span style="width:34.28px"><b style="transform:scaleX(1.096)">get</b></span></li><li><i style="background:#e24d42"></i><span style="width:72.86px"><b style="transform:scaleX(1.052)">get_range</b></span></li><li><i style="background:#1f78c1"></i><span style="width:34.23px"><b style="transform:scaleX(1.093)">iter</b></span></li></ul><ul class="legend" style="top:228px"><li><i style="background:#ba43a9"></i><span style="width:54.75px"><b style="transform:scaleX(1.075)">upload</b></span></li></ul></section>
<section class="panel" style="left:403px;top:1658px;width:322px;height:258px"><h2 class="ptitle"><span style="transform:scaleX(1.025)">Error rate</span></h2><svg class="plot" width="322" height="258" viewBox="403 1658 322 258"><path d="M450.7 1709.5H698M450.7 1735.5H698M450.7 1761.5H698M450.7 1787.5H698M450.7 1814.5H698" stroke="#000" stroke-opacity="0.105" stroke-width="1" fill="none"/><path d="M477.5 1709V1815M518.5 1709V1815M559.5 1709V1815M600.5 1709V1815M642.5 1709V1815M683.5 1709V1815" stroke="#000" stroke-opacity="0.105" stroke-width="1" fill="none"/><circle cx="457" cy="1814.5" r="1.5" fill="#ba43a9"/><polyline points="475,1814.5 477.5,1814.5" fill="none" stroke="#ba43a9" stroke-width="1.2"/><polyline points="512.5,1814.5 515,1814.5" fill="none" stroke="#ba43a9" stroke-width="1.2"/><polyline points="533.6,1814.5 536,1814.5" fill="none" stroke="#ba43a9" stroke-width="1.2"/><polyline points="536,1814.5 539,1814.5" fill="none" stroke="#1f78c1" stroke-width="1.2"/><polyline points="547,1814.5 552,1814.5" fill="none" stroke="#ba43a9" stroke-width="1.2"/><polyline points="568,1814.5 570,1814.5" fill="none" stroke="#ba43a9" stroke-width="1.2"/><rect x="589.2" y="1813.2" width="2.6" height="2.6" fill="#ba43a9"/><rect x="624.4" y="1813.2" width="2.6" height="2.6" fill="#ba43a9"/><circle cx="648" cy="1814.5" r="1.5" fill="#ba43a9"/><polyline points="646.5,1814.5 648,1814.5" fill="none" stroke="#1f78c1" stroke-width="1.2"/><polyline points="658,1814.5 660.5,1814.5" fill="none" stroke="#ba43a9" stroke-width="1.2"/><polyline points="660.5,1814.5 662.4,1814.5" fill="none" stroke="#1f78c1" stroke-width="1.2"/><polyline points="678,1814.5 694,1814.5" fill="none" stroke="#ba43a9" stroke-width="1.2"/><circle cx="677" cy="1814.5" r="1.3" fill="#7eb26d"/><g fill="#24292e" font-size="12"><text transform="translate(445.2 1713.1) scale(1.052 1)" text-anchor="end">100%</text><text transform="translate(445.2 1739.1) scale(1.088 1)" text-anchor="end">75%</text><text transform="translate(445.27 1765.1) scale(1.120 1)" text-anchor="end" letter-spacing="0.07">50%</text><text transform="translate(445.2 1792.1) scale(1.116 1)" text-anchor="end">25%</text><text transform="translate(445.42 1818.1) scale(1.120 1)" text-anchor="end" letter-spacing="0.2">0%</text><text transform="translate(477.16 1833.1) scale(1.032 1)" text-anchor="middle">21:20</text><text transform="translate(518.38 1833.1) scale(1.036 1)" text-anchor="middle">21:30</text><text transform="translate(559.59 1833.1) scale(1.047 1)" text-anchor="middle">21:40</text><text transform="translate(600.81 1833.1) scale(1.032 1)" text-anchor="middle">21:50</text><text transform="translate(642.04 1833.1) scale(1.120 1)" text-anchor="middle" letter-spacing="0.02">22:00</text><text transform="translate(683.24 1833.1) scale(1.032 1)" text-anchor="middle">22:10</text></g></svg><ul class="legend" style="top:186px"><li><i style="background:#7eb26d"></i><span style="width:69.49px"><b style="transform:scaleX(1.084)">attributes</b></span></li><li><i style="background:#eab839"></i><span style="width:51.05px"><b style="transform:scaleX(1.072)">delete</b></span></li><li><i style="background:#6ed0e0"></i><span style="width:48.66px"><b style="transform:scaleX(1.065)">exists</b></span></li></ul><ul class="legend" style="top:207px"><li><i style="background:#ef843c"></i><span style="width:34.28px"><b style="transform:scaleX(1.096)">get</b></span></li><li><i style="background:#e24d42"></i><span style="width:72.86px"><b style="transform:scaleX(1.052)">get_range</b></span></li><li><i style="background:#1f78c1"></i><span style="width:34.23px"><b style="transform:scaleX(1.093)">iter</b></span></li></ul><ul class="legend" style="top:228px"><li><i style="background:#ba43a9"></i><span style="width:54.75px"><b style="transform:scaleX(1.075)">upload</b></span></li></ul></section>
<section class="panel" style="left:733px;top:1658px;width:322px;height:258px"><h2 class="ptitle"><span style="transform:scaleX(1.086)">Latency of op: Attributes</span></h2><svg class="plot" width="322" height="258" viewBox="733 1658 322 258"><path d="M790.2 1709.5H1028M790.2 1751.5H1028M790.2 1793.5H1028M790.2 1835.5H1028" stroke="#000" stroke-opacity="0.105" stroke-width="1" fill="none"/><path d="M815.5 1709V1836M855.5 1709V1836M894.5 1709V1836M934.5 1709V1836M974.5 1709V1836M1013.5 1709V1836" stroke="#000" stroke-opacity="0.105" stroke-width="1" fill="none"/><circle cx="795.6" cy="1751.6" r="1.4" fill="#7eb26d"/><circle cx="795.6" cy="1789" r="1.4" fill="#eab839"/><rect x="795.3" y="1813.3" width="2" height="22.2" fill="#6ed0e0" fill-opacity="0.1"/><polyline points="795.3,1813.3 797.3,1813.3" fill="none" stroke="#6ed0e0" stroke-width="1"/><polygon points="813.3,1835.5 813.3,1751.6 817,1751.6 817,1835.5" fill="#7eb26d" fill-opacity="0.1"/><polyline points="813.3,1751.6 817,1751.6" fill="none" stroke="#7eb26d" stroke-width="1"/><polygon points="813.3,1835.5 813.3,1789 817,1789 817,1835.5" fill="#eab839" fill-opacity="0.1"/><polyline points="813.3,1789 817,1789" fill="none" stroke="#eab839" stroke-width="1"/><polygon points="813.3,1835.5 813.3,1814.5 817,1812.5 817,1835.5" fill="#6ed0e0" fill-opacity="0.1"/><polyline points="813.3,1814.5 817,1812.5" fill="none" stroke="#6ed0e0" stroke-width="1"/><polygon points="849,1835.5 849,1751.6 851,1751.6 851,1835.5" fill="#7eb26d" fill-opacity="0.1"/><polyline points="849,1751.6 851,1751.6" fill="none" stroke="#7eb26d" stroke-width="1"/><polygon points="849,1835.5 849,1789 851,1789 851,1835.5" fill="#eab839" fill-opacity="0.1"/><polyline points="849,1789 851,1789" fill="none" stroke="#eab839" stroke-width="1"/><polygon points="849,1835.5 849,1814.5 851,1814.5 851,1835.5" fill="#6ed0e0" fill-opacity="0.1"/><polyline points="849,1814.5 851,1814.5" fill="none" stroke="#6ed0e0" stroke-width="1"/><polygon points="873,1835.5 873,1751.6 875,1751.6 875,1835.5" fill="#7eb26d" fill-opacity="0.1"/><polyline points="873,1751.6 875,1751.6" fill="none" stroke="#7eb26d" stroke-width="1"/><polygon points="873,1835.5 873,1789 875,1789 875,1835.5" fill="#eab839" fill-opacity="0.1"/><polyline points="873,1789 875,1789" fill="none" stroke="#eab839" stroke-width="1"/><polygon points="873,1835.5 873,1819.5 875,1819.5 875,1835.5" fill="#6ed0e0" fill-opacity="0.1"/><polyline points="873,1819.5 875,1819.5" fill="none" stroke="#6ed0e0" stroke-width="1"/><polygon points="883.2,1835.5 883.2,1751.6 887,1751.6 887,1835.5" fill="#7eb26d" fill-opacity="0.1"/><polyline points="883.2,1751.6 887,1751.6" fill="none" stroke="#7eb26d" stroke-width="1"/><polygon points="883.2,1835.5 883.2,1789 887,1789 887,1835.5" fill="#eab839" fill-opacity="0.1"/><polyline points="883.2,1789 887,1789" fill="none" stroke="#eab839" stroke-width="1"/><polygon points="883.2,1835.5 883.2,1816.5 887,1820.5 887,1835.5" fill="#6ed0e0" fill-opacity="0.1"/><polyline points="883.2,1816.5 887,1820.5" fill="none" stroke="#6ed0e0" stroke-width="1"/><circle cx="924.5" cy="1751.6" r="1.4" fill="#7eb26d"/><circle cx="924.5" cy="1789" r="1.4" fill="#eab839"/><rect x="924.2" y="1811.5" width="2" height="24" fill="#6ed0e0" fill-opacity="0.1"/><polyline points="924.2,1811.5 926.2,1811.5" fill="none" stroke="#6ed0e0" stroke-width="1"/><circle cx="980" cy="1751.6" r="1.4" fill="#7eb26d"/><circle cx="980" cy="1789" r="1.4" fill="#eab839"/><rect x="979.7" y="1814.5" width="2" height="21" fill="#6ed0e0" fill-opacity="0.1"/><polyline points="979.7,1814.5 981.7,1814.5" fill="none" stroke="#6ed0e0" stroke-width="1"/><polygon points="989.8,1835.5 989.8,1751.6 993,1751.6 993,1835.5" fill="#7eb26d" fill-opacity="0.1"/><polyline points="989.8,1751.6 993,1751.6" fill="none" stroke="#7eb26d" stroke-width="1"/><polygon points="989.8,1835.5 989.8,1789 993,1789 993,1835.5" fill="#eab839" fill-opacity="0.1"/><polyline points="989.8,1789 993,1789" fill="none" stroke="#eab839" stroke-width="1"/><polygon points="989.8,1835.5 989.8,1817.5 993,1819.5 993,1835.5" fill="#6ed0e0" fill-opacity="0.1"/><polyline points="989.8,1817.5 993,1819.5" fill="none" stroke="#6ed0e0" stroke-width="1"/><circle cx="1007.7" cy="1751.6" r="1.4" fill="#7eb26d"/><circle cx="1007.7" cy="1789" r="1.4" fill="#eab839"/><rect x="1007.4" y="1821" width="2" height="14.5" fill="#6ed0e0" fill-opacity="0.1"/><polyline points="1007.4,1821 1009.4,1821" fill="none" stroke="#6ed0e0" stroke-width="1"/><polygon points="1012.3,1835.5 1012.3,1751.6 1013.8,1751.6 1013.8,1835.5" fill="#7eb26d" fill-opacity="0.1"/><polyline points="1012.3,1751.6 1013.8,1751.6" fill="none" stroke="#7eb26d" stroke-width="1"/><polygon points="1012.3,1835.5 1012.3,1789 1013.8,1789 1013.8,1835.5" fill="#eab839" fill-opacity="0.1"/><polyline points="1012.3,1789 1013.8,1789" fill="none" stroke="#eab839" stroke-width="1"/><polygon points="1012.3,1835.5 1012.3,1815 1013.8,1814.5 1013.8,1835.5" fill="#6ed0e0" fill-opacity="0.1"/><polyline points="1012.3,1815 1013.8,1814.5" fill="none" stroke="#6ed0e0" stroke-width="1"/><polygon points="1019.3,1835.5 1019.3,1751.6 1023.8,1751.6 1023.8,1835.5" fill="#7eb26d" fill-opacity="0.1"/><polyline points="1019.3,1751.6 1023.8,1751.6" fill="none" stroke="#7eb26d" stroke-width="1"/><polygon points="1019.3,1835.5 1019.3,1789 1023.8,1789 1023.8,1835.5" fill="#eab839" fill-opacity="0.1"/><polyline points="1019.3,1789 1023.8,1789" fill="none" stroke="#eab839" stroke-width="1"/><polygon points="1019.3,1835.5 1019.3,1821.5 1023.8,1819.5 1023.8,1835.5" fill="#6ed0e0" fill-opacity="0.1"/><polyline points="1019.3,1821.5 1023.8,1819.5" fill="none" stroke="#6ed0e0" stroke-width="1"/><polygon points="1008,1835.5 1008,1821.5 1009.5,1820.5 1011,1816 1012.3,1814.8 1012.3,1835.5" fill="#6ed0e0" fill-opacity="0.1"/><polyline points="1008,1821.5 1009.5,1820.5 1011,1816 1012.3,1814.8" fill="none" stroke="#6ed0e0" stroke-width="1"/><g fill="#24292e" font-size="12"><text transform="translate(784.7 1713.1) scale(1.031 1)" text-anchor="end">150 ms</text><text transform="translate(784.7 1755.1) scale(1.038 1)" text-anchor="end">100 ms</text><text transform="translate(784.7 1797.1) scale(1.090 1)" text-anchor="end">50 ms</text><text transform="translate(784.7 1839.1) scale(1.085 1)" text-anchor="end">0 ms</text><text transform="translate(815.64 1854.1) scale(1.032 1)" text-anchor="middle">21:20</text><text transform="translate(855.28 1854.1) scale(1.036 1)" text-anchor="middle">21:30</text><text transform="translate(894.91 1854.1) scale(1.047 1)" text-anchor="middle">21:40</text><text transform="translate(934.54 1854.1) scale(1.032 1)" text-anchor="middle">21:50</text><text transform="translate(974.19 1854.1) scale(1.120 1)" text-anchor="middle" letter-spacing="0.02">22:00</text><text transform="translate(1013.81 1854.1) scale(1.032 1)" text-anchor="middle">22:10</text></g></svg><ul class="legend" style="top:207px"><li><i style="background:#7eb26d"></i><span style="width:103.1px"><b style="transform:scaleX(1.088)">99th Percentile</b></span></li><li><i style="background:#eab839"></i><span style="width:104.2px"><b style="transform:scaleX(1.102)">50th Percentile</b></span></li></ul><ul class="legend" style="top:228px"><li><i style="background:#6ed0e0"></i><span style="width:62.58px"><b style="transform:scaleX(1.047)">Average</b></span></li></ul></section>
<section class="panel" style="left:1062px;top:1658px;width:322px;height:258px"><h2 class="ptitle"><span style="transform:scaleX(1.065)">Latency of op: Exists</span></h2><svg class="plot" width="322" height="258" viewBox="1062 1658 322 258"><path d="M1120.2 1709.5H1357M1120.2 1740.5H1357M1120.2 1772.5H1357M1120.2 1803.5H1357M1120.2 1835.5H1357" stroke="#000" stroke-opacity="0.105" stroke-width="1" fill="none"/><path d="M1145.5 1709V1836M1185.5 1709V1836M1224.5 1709V1836M1263.5 1709V1836M1303.5 1709V1836M1342.5 1709V1836" stroke="#000" stroke-opacity="0.105" stroke-width="1" fill="none"/><circle cx="1125.6" cy="1772.4" r="1.4" fill="#7eb26d"/><circle cx="1125.6" cy="1800.5" r="1.4" fill="#eab839"/><rect x="1125.3" y="1820" width="2" height="15.5" fill="#6ed0e0" fill-opacity="0.1"/><polyline points="1125.3,1820 1127.3,1820" fill="none" stroke="#6ed0e0" stroke-width="1"/><polygon points="1143.4,1835.5 1143.4,1772.4 1145.6,1772.4 1145.6,1835.5" fill="#7eb26d" fill-opacity="0.1"/><polyline points="1143.4,1772.4 1145.6,1772.4" fill="none" stroke="#7eb26d" stroke-width="1"/><polygon points="1143.4,1835.5 1143.4,1800.5 1145.6,1800.5 1145.6,1835.5" fill="#eab839" fill-opacity="0.1"/><polyline points="1143.4,1800.5 1145.6,1800.5" fill="none" stroke="#eab839" stroke-width="1"/><polygon points="1143.4,1835.5 1143.4,1821 1145.6,1821 1145.6,1835.5" fill="#6ed0e0" fill-opacity="0.1"/><polyline points="1143.4,1821 1145.6,1821" fill="none" stroke="#6ed0e0" stroke-width="1"/><polygon points="1179,1835.5 1179,1772.4 1181,1772.4 1181,1835.5" fill="#7eb26d" fill-opacity="0.1"/><polyline points="1179,1772.4 1181,1772.4" fill="none" stroke="#7eb26d" stroke-width="1"/><polygon points="1179,1835.5 1179,1800.5 1181,1800.5 1181,1835.5" fill="#eab839" fill-opacity="0.1"/><polyline points="1179,1800.5 1181,1800.5" fill="none" stroke="#eab839" stroke-width="1"/><polygon points="1179,1835.5 1179,1819.5 1181,1819.5 1181,1835.5" fill="#6ed0e0" fill-opacity="0.1"/><polyline points="1179,1819.5 1181,1819.5" fill="none" stroke="#6ed0e0" stroke-width="1"/><polygon points="1199,1835.5 1199,1772.4 1204.8,1772.4 1204.8,1835.5" fill="#7eb26d" fill-opacity="0.1"/><polyline points="1199,1772.4 1204.8,1772.4" fill="none" stroke="#7eb26d" stroke-width="1"/><polygon points="1199,1835.5 1199,1800.5 1204.8,1800.5 1204.8,1835.5" fill="#eab839" fill-opacity="0.1"/><polyline points="1199,1800.5 1204.8,1800.5" fill="none" stroke="#eab839" stroke-width="1"/><polygon points="1199,1835.5 1199,1820.5 1204.8,1823.5 1204.8,1835.5" fill="#6ed0e0" fill-opacity="0.1"/><polyline points="1199,1820.5 1204.8,1823.5" fill="none" stroke="#6ed0e0" stroke-width="1"/><polygon points="1212.4,1835.5 1212.4,1772.4 1216.8,1772.4 1216.8,1835.5" fill="#7eb26d" fill-opacity="0.1"/><polyline points="1212.4,1772.4 1216.8,1772.4" fill="none" stroke="#7eb26d" stroke-width="1"/><polygon points="1212.4,1835.5 1212.4,1800.5 1216.8,1800.5 1216.8,1835.5" fill="#eab839" fill-opacity="0.1"/><polyline points="1212.4,1800.5 1216.8,1800.5" fill="none" stroke="#eab839" stroke-width="1"/><polygon points="1212.4,1835.5 1212.4,1820.5 1216.8,1823 1216.8,1835.5" fill="#6ed0e0" fill-opacity="0.1"/><polyline points="1212.4,1820.5 1216.8,1823" fill="none" stroke="#6ed0e0" stroke-width="1"/><polygon points="1232,1835.5 1232,1772.4 1234,1772.4 1234,1835.5" fill="#7eb26d" fill-opacity="0.1"/><polyline points="1232,1772.4 1234,1772.4" fill="none" stroke="#7eb26d" stroke-width="1"/><polygon points="1232,1835.5 1232,1800.5 1234,1800.5 1234,1835.5" fill="#eab839" fill-opacity="0.1"/><polyline points="1232,1800.5 1234,1800.5" fill="none" stroke="#eab839" stroke-width="1"/><polygon points="1232,1835.5 1232,1821.5 1234,1821.5 1234,1835.5" fill="#6ed0e0" fill-opacity="0.1"/><polyline points="1232,1821.5 1234,1821.5" fill="none" stroke="#6ed0e0" stroke-width="1"/><circle cx="1254" cy="1772.4" r="1.4" fill="#7eb26d"/><circle cx="1254" cy="1800.5" r="1.4" fill="#eab839"/><rect x="1253.7" y="1820.5" width="2" height="15" fill="#6ed0e0" fill-opacity="0.1"/><polyline points="1253.7,1820.5 1255.7,1820.5" fill="none" stroke="#6ed0e0" stroke-width="1"/><circle cx="1287.5" cy="1772.4" r="1.4" fill="#7eb26d"/><circle cx="1287.5" cy="1800.5" r="1.4" fill="#eab839"/><rect x="1287.2" y="1819.3" width="2" height="16.2" fill="#6ed0e0" fill-opacity="0.1"/><polyline points="1287.2,1819.3 1289.2,1819.3" fill="none" stroke="#6ed0e0" stroke-width="1"/><polygon points="1306.8,1835.5 1306.8,1772.4 1309.8,1772.4 1309.8,1835.5" fill="#7eb26d" fill-opacity="0.1"/><polyline points="1306.8,1772.4 1309.8,1772.4" fill="none" stroke="#7eb26d" stroke-width="1"/><polygon points="1306.8,1835.5 1306.8,1800.5 1309.8,1800.5 1309.8,1835.5" fill="#eab839" fill-opacity="0.1"/><polyline points="1306.8,1800.5 1309.8,1800.5" fill="none" stroke="#eab839" stroke-width="1"/><polygon points="1306.8,1835.5 1306.8,1819.5 1309.8,1816.5 1309.8,1835.5" fill="#6ed0e0" fill-opacity="0.1"/><polyline points="1306.8,1819.5 1309.8,1816.5" fill="none" stroke="#6ed0e0" stroke-width="1"/><polygon points="1319,1835.5 1319,1772.4 1322.5,1772.4 1322.5,1835.5" fill="#7eb26d" fill-opacity="0.1"/><polyline points="1319,1772.4 1322.5,1772.4" fill="none" stroke="#7eb26d" stroke-width="1"/><polygon points="1319,1835.5 1319,1800.5 1322.5,1800.5 1322.5,1835.5" fill="#eab839" fill-opacity="0.1"/><polyline points="1319,1800.5 1322.5,1800.5" fill="none" stroke="#eab839" stroke-width="1"/><polygon points="1319,1835.5 1319,1820.5 1322.5,1823 1322.5,1835.5" fill="#6ed0e0" fill-opacity="0.1"/><polyline points="1319,1820.5 1322.5,1823" fill="none" stroke="#6ed0e0" stroke-width="1"/><polygon points="1335,1835.5 1335,1772.4 1337,1772.4 1337,1835.5" fill="#7eb26d" fill-opacity="0.1"/><polyline points="1335,1772.4 1337,1772.4" fill="none" stroke="#7eb26d" stroke-width="1"/><polygon points="1335,1835.5 1335,1800.5 1337,1800.5 1337,1835.5" fill="#eab839" fill-opacity="0.1"/><polyline points="1335,1800.5 1337,1800.5" fill="none" stroke="#eab839" stroke-width="1"/><polygon points="1335,1835.5 1335,1820.5 1337,1820.5 1337,1835.5" fill="#6ed0e0" fill-opacity="0.1"/><polyline points="1335,1820.5 1337,1820.5" fill="none" stroke="#6ed0e0" stroke-width="1"/><polygon points="1341,1835.5 1341,1772.4 1352.8,1772.4 1352.8,1835.5" fill="#7eb26d" fill-opacity="0.1"/><polyline points="1341,1772.4 1352.8,1772.4" fill="none" stroke="#7eb26d" stroke-width="1"/><polygon points="1341,1835.5 1341,1800.5 1352.8,1800.5 1352.8,1835.5" fill="#eab839" fill-opacity="0.1"/><polyline points="1341,1800.5 1352.8,1800.5" fill="none" stroke="#eab839" stroke-width="1"/><polygon points="1341,1835.5 1341,1819.5 1352.8,1823 1352.8,1835.5" fill="#6ed0e0" fill-opacity="0.1"/><polyline points="1341,1819.5 1352.8,1823" fill="none" stroke="#6ed0e0" stroke-width="1"/><polyline points="1307.2,1772.4 1309.4,1715.4" fill="none" stroke="#7eb26d" stroke-width="1"/><g fill="#24292e" font-size="12"><text transform="translate(1114.7 1713.1) scale(1.101 1)" text-anchor="end">200 ms</text><text transform="translate(1114.7 1744.1) scale(1.031 1)" text-anchor="end">150 ms</text><text transform="translate(1114.7 1776.1) scale(1.038 1)" text-anchor="end">100 ms</text><text transform="translate(1114.7 1807.1) scale(1.090 1)" text-anchor="end">50 ms</text><text transform="translate(1114.7 1839.1) scale(1.085 1)" text-anchor="end">0 ms</text><text transform="translate(1145.54 1854.1) scale(1.032 1)" text-anchor="middle">21:20</text><text transform="translate(1185 1854.1) scale(1.036 1)" text-anchor="middle">21:30</text><text transform="translate(1224.47 1854.1) scale(1.047 1)" text-anchor="middle">21:40</text><text transform="translate(1263.94 1854.1) scale(1.032 1)" text-anchor="middle">21:50</text><text transform="translate(1303.42 1854.1) scale(1.120 1)" text-anchor="middle" letter-spacing="0.02">22:00</text><text transform="translate(1342.87 1854.1) scale(1.032 1)" text-anchor="middle">22:10</text></g></svg><ul class="legend" style="top:207px"><li><i style="background:#7eb26d"></i><span style="width:103.1px"><b style="transform:scaleX(1.088)">99th Percentile</b></span></li><li><i style="background:#eab839"></i><span style="width:104.2px"><b style="transform:scaleX(1.102)">50th Percentile</b></span></li></ul><ul class="legend" style="top:228px"><li><i style="background:#6ed0e0"></i><span style="width:62.58px"><b style="transform:scaleX(1.047)">Average</b></span></li></ul></section>
<div class="rowt" style="top:1924px"><svg width="10" height="8" viewBox="0 0 10 8"><path d="M2.2 2.6L5 5.3 7.8 2.6" fill="none" stroke="#24292e" stroke-width="1.4" stroke-linecap="round" stroke-linejoin="round"/></svg></div>
<section class="panel" style="left:73px;top:1962px;width:322px;height:258px"><h2 class="ptitle"><span style="transform:scaleX(1.064)">Latency of op: Get</span></h2><svg class="plot" width="322" height="258" viewBox="73 1962 322 258"><path d="M116 2013.5H368M116 2038.5H368M116 2063.5H368M116 2088.5H368M116 2113.5H368M116 2139.5H368" stroke="#000" stroke-opacity="0.105" stroke-width="1" fill="none"/><path d="M142.5 2013V2140M184.5 2013V2140M226.5 2013V2140M268.5 2013V2140M310.5 2013V2140M352.5 2013V2140" stroke="#000" stroke-opacity="0.105" stroke-width="1" fill="none"/><circle cx="122" cy="2139" r="1.5" fill="#eab839"/><circle cx="122" cy="2138.5" r="1" fill="#7eb26d"/><polyline points="141,2139 145,2139" fill="none" stroke="#6ed0e0" stroke-width="1.2"/><circle cx="142" cy="2138.5" r="0.9" fill="#7eb26d"/><circle cx="179.6" cy="2138.5" r="1.1" fill="#7eb26d"/><polyline points="199.5,2138.7 205.5,2138.3" fill="none" stroke="#7eb26d" stroke-width="1.4"/><polyline points="199.5,2139.3 205.5,2139.2" fill="none" stroke="#6ed0e0" stroke-width="1"/><polygon points="214,2139.5 214,2139.5 216.3,2136.5 218.5,2139.5 218.5,2139.5" fill="#7eb26d" fill-opacity="0.1"/><polyline points="214,2139.5 216.3,2136.5 218.5,2139.5" fill="none" stroke="#7eb26d" stroke-width="1"/><polyline points="235,2138.7 239.5,2139.2" fill="none" stroke="#6ed0e0" stroke-width="1.2"/><circle cx="258.3" cy="2139" r="1.5" fill="#eab839"/><circle cx="258.3" cy="2138.3" r="1" fill="#7eb26d"/><circle cx="294.2" cy="2139" r="1.5" fill="#eab839"/><circle cx="317.1" cy="2139" r="1.5" fill="#eab839"/><polygon points="327.5,2139.5 327.5,2139.5 329.5,2100 331.8,2041.5 334.1,2039 334.1,2139.5" fill="#7eb26d" fill-opacity="0.1"/><polyline points="327.5,2139.5 329.5,2100 331.8,2041.5 334.1,2039" fill="none" stroke="#7eb26d" stroke-width="1"/><polygon points="330.5,2139.5 330.5,2139.5 331.8,2138.5 334.1,2066.5 334.1,2139.5" fill="#eab839" fill-opacity="0.1"/><polyline points="330.5,2139.5 331.8,2138.5 334.1,2066.5" fill="none" stroke="#eab839" stroke-width="1"/><polygon points="327.5,2139.5 327.5,2139.5 330,2135.5 334.1,2122.5 334.1,2139.5" fill="#6ed0e0" fill-opacity="0.1"/><polyline points="327.5,2139.5 330,2135.5 334.1,2122.5" fill="none" stroke="#6ed0e0" stroke-width="1"/><polygon points="344.3,2139.5 344.3,2139.5 345.3,2128 346.6,2113.8 348.2,2121.5 349.2,2123.8 352,2123.8 353.5,2116 354.9,2110.3 357.3,2110.3 358.6,2124 359.8,2136 362,2137 363.4,2139.5 363.4,2139.5" fill="#7eb26d" fill-opacity="0.1"/><polyline points="344.3,2139.5 345.3,2128 346.6,2113.8 348.2,2121.5 349.2,2123.8 352,2123.8 353.5,2116 354.9,2110.3 357.3,2110.3 358.6,2124 359.8,2136 362,2137 363.4,2139.5" fill="none" stroke="#7eb26d" stroke-width="1"/><polygon points="346.5,2139.5 346.5,2139.5 348.8,2129.6 351.1,2139 361,2139 361,2139.5" fill="#eab839" fill-opacity="0.1"/><polyline points="346.5,2139.5 348.8,2129.6 351.1,2139 361,2139" fill="none" stroke="#eab839" stroke-width="1"/><polygon points="344.3,2139.5 344.3,2139.5 348,2137 352,2139 354.5,2136 356.3,2134.4 358.3,2136.5 360.5,2139.5 360.5,2139.5" fill="#6ed0e0" fill-opacity="0.1"/><polyline points="344.3,2139.5 348,2137 352,2139 354.5,2136 356.3,2134.4 358.3,2136.5 360.5,2139.5" fill="none" stroke="#6ed0e0" stroke-width="1"/><g fill="#24292e" font-size="12"><text transform="translate(110.5 2017.1) scale(1.088 1)" text-anchor="end">25 s</text><text transform="translate(110.5 2042.1) scale(1.101 1)" text-anchor="end">20 s</text><text transform="translate(110.5 2067.1) scale(0.979 1)" text-anchor="end">15 s</text><text transform="translate(110.5 2093.1) scale(0.992 1)" text-anchor="end">10 s</text><text transform="translate(110.5 2118.1) scale(1.078 1)" text-anchor="end">5 s</text><text transform="translate(110.5 2143.1) scale(1.085 1)" text-anchor="end">0 ms</text><text transform="translate(142.96 2158.1) scale(1.032 1)" text-anchor="middle">21:20</text><text transform="translate(184.96 2158.1) scale(1.036 1)" text-anchor="middle">21:30</text><text transform="translate(226.96 2158.1) scale(1.047 1)" text-anchor="middle">21:40</text><text transform="translate(268.96 2158.1) scale(1.032 1)" text-anchor="middle">21:50</text><text transform="translate(310.98 2158.1) scale(1.120 1)" text-anchor="middle" letter-spacing="0.02">22:00</text><text transform="translate(352.96 2158.1) scale(1.032 1)" text-anchor="middle">22:10</text></g></svg><ul class="legend" style="top:207px"><li><i style="background:#7eb26d"></i><span style="width:103.1px"><b style="transform:scaleX(1.088)">99th Percentile</b></span></li><li><i style="background:#eab839"></i><span style="width:104.2px"><b style="transform:scaleX(1.102)">50th Percentile</b></span></li></ul><ul class="legend" style="top:228px"><li><i style="background:#6ed0e0"></i><span style="width:62.58px"><b style="transform:scaleX(1.047)">Average</b></span></li></ul></section>
<section class="panel" style="left:403px;top:1962px;width:322px;height:258px"><h2 class="ptitle"><span style="transform:scaleX(1.050)">Latency of op: GetRange</span></h2><svg class="plot" width="322" height="258" viewBox="403 1962 322 258"><path d="M473.1 2013.5H698M473.1 2044.5H698M473.1 2076.5H698M473.1 2107.5H698M473.1 2139.5H698" stroke="#000" stroke-opacity="0.105" stroke-width="1" fill="none"/><path d="M497.5 2013V2140M534.5 2013V2140M572.5 2013V2140M609.5 2013V2140M647.5 2013V2140M684.5 2013V2140" stroke="#000" stroke-opacity="0.105" stroke-width="1" fill="none"/><g fill="#24292e" font-size="12"><text transform="translate(467.6 2017.1) scale(0.980 1)" text-anchor="end">1 ms</text><text transform="translate(467.6 2048.1) scale(1.076 1)" text-anchor="end">0.750 ms</text><text transform="translate(467.6 2080.1) scale(1.094 1)" text-anchor="end">0.500 ms</text><text transform="translate(467.6 2111.1) scale(1.092 1)" text-anchor="end">0.250 ms</text><text transform="translate(467.6 2143.1) scale(1.085 1)" text-anchor="end">0 ms</text><text transform="translate(497.16 2158.1) scale(1.032 1)" text-anchor="middle">21:20</text><text transform="translate(534.65 2158.1) scale(1.036 1)" text-anchor="middle">21:30</text><text transform="translate(572.13 2158.1) scale(1.047 1)" text-anchor="middle">21:40</text><text transform="translate(609.61 2158.1) scale(1.032 1)" text-anchor="middle">21:50</text><text transform="translate(647.11 2158.1) scale(1.120 1)" text-anchor="middle" letter-spacing="0.02">22:00</text><text transform="translate(684.58 2158.1) scale(1.032 1)" text-anchor="middle">22:10</text></g></svg><ul class="legend" style="top:207px"><li><i style="background:#7eb26d"></i><span style="width:103.1px"><b style="transform:scaleX(1.088)">99th Percentile</b></span></li><li><i style="background:#eab839"></i><span style="width:104.2px"><b style="transform:scaleX(1.102)">50th Percentile</b></span></li></ul><ul class="legend" style="top:228px"><li><i style="background:#6ed0e0"></i><span style="width:62.58px"><b style="transform:scaleX(1.047)">Average</b></span></li></ul></section>
<section class="panel" style="left:733px;top:1962px;width:322px;height:258px"><h2 class="ptitle"><span style="transform:scaleX(1.070)">Latency of op: Upload</span></h2><svg class="plot" width="322" height="258" viewBox="733 1962 322 258"><path d="M783.1 2013.5H1028M783.1 2044.5H1028M783.1 2076.5H1028M783.1 2107.5H1028M783.1 2139.5H1028" stroke="#000" stroke-opacity="0.105" stroke-width="1" fill="none"/><path d="M809.5 2013V2140M850.5 2013V2140M890.5 2013V2140M931.5 2013V2140M972.5 2013V2140M1013.5 2013V2140" stroke="#000" stroke-opacity="0.105" stroke-width="1" fill="none"/><circle cx="788.5" cy="2136.5" r="1.3" fill="#7eb26d"/><circle cx="788.5" cy="2138.7" r="1.3" fill="#eab839"/><circle cx="809" cy="2136.5" r="1.3" fill="#7eb26d"/><polyline points="808,2138.5 812,2138.5" fill="none" stroke="#6ed0e0" stroke-width="1.2"/><circle cx="845" cy="2136.5" r="1.3" fill="#7eb26d"/><polyline points="844,2138.5 848,2138.5" fill="none" stroke="#6ed0e0" stroke-width="1.2"/><circle cx="865.4" cy="2136.5" r="1.3" fill="#7eb26d"/><polyline points="864.4,2138.5 868.4,2138.5" fill="none" stroke="#6ed0e0" stroke-width="1.2"/><polygon points="878.3,2139.5 878.3,2137.5 880.5,2129.2 882.9,2138.5 882.9,2139.5" fill="#7eb26d" fill-opacity="0.1"/><polyline points="878.3,2137.5 880.5,2129.2 882.9,2138.5" fill="none" stroke="#7eb26d" stroke-width="1"/><polyline points="878,2138.5 883,2138.5" fill="none" stroke="#6ed0e0" stroke-width="1"/><circle cx="901" cy="2136.5" r="1.3" fill="#7eb26d"/><circle cx="901" cy="2138.7" r="1.3" fill="#eab839"/><circle cx="921.4" cy="2093.3" r="1.4" fill="#7eb26d"/><circle cx="921.4" cy="2138.5" r="1.4" fill="#eab839"/><polyline points="921,2137.9 924,2137.5" fill="none" stroke="#6ed0e0" stroke-width="1.2"/><polygon points="956.3,2139.5 956.3,2122.5 958.4,2101.8 958.4,2139.5" fill="#7eb26d" fill-opacity="0.1"/><polyline points="956.3,2122.5 958.4,2101.8" fill="none" stroke="#7eb26d" stroke-width="1"/><polygon points="956.3,2139.5 956.3,2137.5 958.4,2114.4 958.4,2139.5" fill="#eab839" fill-opacity="0.1"/><polyline points="956.3,2137.5 958.4,2114.4" fill="none" stroke="#eab839" stroke-width="1.3"/><polyline points="956,2138 958.5,2138.5" fill="none" stroke="#6ed0e0" stroke-width="1"/><circle cx="978.5" cy="2136.5" r="1.3" fill="#7eb26d"/><circle cx="978.5" cy="2138.7" r="1.3" fill="#eab839"/><polyline points="988.5,2138.5 993,2138.5" fill="none" stroke="#6ed0e0" stroke-width="1.2"/><circle cx="989.5" cy="2136" r="0.8" fill="#7eb26d"/><circle cx="1007.4" cy="2136.5" r="1.3" fill="#7eb26d"/><circle cx="1007.4" cy="2138.7" r="1.3" fill="#eab839"/><polygon points="1009.3,2139.5 1009.3,2137.5 1011.5,2061.7 1013.6,2135 1015.5,2029.3 1017.4,2066.5 1019.5,2029.3 1021.7,2090 1023.8,2136 1023.8,2139.5" fill="#7eb26d" fill-opacity="0.1"/><polyline points="1009.3,2137.5 1011.5,2061.7 1013.6,2135 1015.5,2029.3 1017.4,2066.5 1019.5,2029.3 1021.7,2090 1023.8,2136" fill="none" stroke="#7eb26d" stroke-width="1"/><polygon points="1010,2139.5 1010,2138.5 1023.8,2138.5 1023.8,2139.5" fill="#eab839" fill-opacity="0.1"/><polyline points="1010,2138.5 1023.8,2138.5" fill="none" stroke="#eab839" stroke-width="1.2"/><polygon points="1009.3,2139.5 1009.3,2138 1013.2,2136 1015.5,2121.5 1019.5,2121.5 1021.9,2137 1023.8,2138.5 1023.8,2139.5" fill="#6ed0e0" fill-opacity="0.1"/><polyline points="1009.3,2138 1013.2,2136 1015.5,2121.5 1019.5,2121.5 1021.9,2137 1023.8,2138.5" fill="none" stroke="#6ed0e0" stroke-width="1"/><g fill="#24292e" font-size="12"><text transform="translate(777.6 2017.1) scale(0.992 1)" text-anchor="end">10 s</text><text transform="translate(777.6 2048.1) scale(1.029 1)" text-anchor="end">7.50 s</text><text transform="translate(777.6 2080.1) scale(1.078 1)" text-anchor="end">5 s</text><text transform="translate(777.6 2111.1) scale(1.092 1)" text-anchor="end">2.50 s</text><text transform="translate(777.6 2143.1) scale(1.085 1)" text-anchor="end">0 ms</text><text transform="translate(809.3 2158.1) scale(1.032 1)" text-anchor="middle">21:20</text><text transform="translate(850.12 2158.1) scale(1.036 1)" text-anchor="middle">21:30</text><text transform="translate(890.94 2158.1) scale(1.047 1)" text-anchor="middle">21:40</text><text transform="translate(931.75 2158.1) scale(1.032 1)" text-anchor="middle">21:50</text><text transform="translate(972.58 2158.1) scale(1.120 1)" text-anchor="middle" letter-spacing="0.02">22:00</text><text transform="translate(1013.39 2158.1) scale(1.032 1)" text-anchor="middle">22:10</text></g></svg><ul class="legend" style="top:207px"><li><i style="background:#7eb26d"></i><span style="width:103.1px"><b style="transform:scaleX(1.088)">99th Percentile</b></span></li><li><i style="background:#eab839"></i><span style="width:104.2px"><b style="transform:scaleX(1.102)">50th Percentile</b></span></li></ul><ul class="legend" style="top:228px"><li><i style="background:#6ed0e0"></i><span style="width:62.58px"><b style="transform:scaleX(1.047)">Average</b></span></li></ul></section>
<section class="panel" style="left:1062px;top:1962px;width:322px;height:258px"><h2 class="ptitle"><span style="transform:scaleX(1.066)">Latency of op: Delete</span></h2><svg class="plot" width="322" height="258" viewBox="1062 1962 322 258"><path d="M1121 2013.5H1357M1121 2055.5H1357M1121 2097.5H1357M1121 2139.5H1357" stroke="#000" stroke-opacity="0.105" stroke-width="1" fill="none"/><path d="M1146.5 2013V2140M1185.5 2013V2140M1224.5 2013V2140M1264.5 2013V2140M1303.5 2013V2140M1342.5 2013V2140" stroke="#000" stroke-opacity="0.105" stroke-width="1" fill="none"/><circle cx="1287.6" cy="2097.4" r="1.4" fill="#7eb26d"/><circle cx="1287.6" cy="2115.9" r="1.4" fill="#eab839"/><rect x="1287.6" y="2124.8" width="2" height="14.7" fill="#6ed0e0" fill-opacity="0.1"/><polyline points="1287.6,2124.8 1289.8,2124.8" fill="none" stroke="#6ed0e0" stroke-width="1"/><circle cx="1309.6" cy="2034.8" r="1.4" fill="#7eb26d"/><circle cx="1309.6" cy="2115.4" r="1.4" fill="#eab839"/><rect x="1309.6" y="2122.6" width="2" height="16.9" fill="#6ed0e0" fill-opacity="0.1"/><polyline points="1309.4,2122.6 1311.6,2122.6" fill="none" stroke="#6ed0e0" stroke-width="1"/><polygon points="1341,2139.5 1341,2097.4 1343,2097.4 1343,2139.5" fill="#7eb26d" fill-opacity="0.1"/><polyline points="1341,2097.4 1343,2097.4" fill="none" stroke="#7eb26d" stroke-width="1"/><polygon points="1341,2139.5 1341,2116 1343,2116 1343,2139.5" fill="#eab839" fill-opacity="0.1"/><polyline points="1341,2116 1343,2116" fill="none" stroke="#eab839" stroke-width="1"/><polygon points="1341,2139.5 1341,2124.5 1343,2124.5 1343,2139.5" fill="#6ed0e0" fill-opacity="0.1"/><polyline points="1341,2124.5 1343,2124.5" fill="none" stroke="#6ed0e0" stroke-width="1"/><g fill="#24292e" font-size="12"><text transform="translate(1115.5 2017.1) scale(1.103 1)" text-anchor="end">300 ms</text><text transform="translate(1115.5 2059.1) scale(1.101 1)" text-anchor="end">200 ms</text><text transform="translate(1115.5 2101.1) scale(1.038 1)" text-anchor="end">100 ms</text><text transform="translate(1115.5 2143.1) scale(1.085 1)" text-anchor="end">0 ms</text><text transform="translate(1146.25 2158.1) scale(1.032 1)" text-anchor="middle">21:20</text><text transform="translate(1185.59 2158.1) scale(1.036 1)" text-anchor="middle">21:30</text><text transform="translate(1224.92 2158.1) scale(1.047 1)" text-anchor="middle">21:40</text><text transform="translate(1264.25 2158.1) scale(1.032 1)" text-anchor="middle">21:50</text><text transform="translate(1303.6 2158.1) scale(1.120 1)" text-anchor="middle" letter-spacing="0.02">22:00</text><text transform="translate(1342.92 2158.1) scale(1.032 1)" text-anchor="middle">22:10</text></g></svg><ul class="legend" style="top:207px"><li><i style="background:#7eb26d"></i><span style="width:103.1px"><b style="transform:scaleX(1.088)">99th Percentile</b></span></li><li><i style="background:#eab839"></i><span style="width:104.2px"><b style="transform:scaleX(1.102)">50th Percentile</b></span></li></ul><ul class="legend" style="top:228px"><li><i style="background:#6ed0e0"></i><span style="width:62.58px"><b style="transform:scaleX(1.047)">Average</b></span></li></ul></section>
<div class="rowt" style="top:2228px"><svg width="10" height="8" viewBox="0 0 10 8"><path d="M2.2 2.6L5 5.3 7.8 2.6" fill="none" stroke="#24292e" stroke-width="1.4" stroke-linecap="round" stroke-linejoin="round"/></svg><span class="t" style="left:22.3px;top:4px;font-size:16px;line-height:21px;color:#24292e;transform:scaleX(1.108);-webkit-text-stroke:0.3px">Key-value store for compactors ring</span></div>
<section class="panel" style="left:73px;top:2266px;width:652px;height:258px"><h2 class="ptitle"><span style="transform:scaleX(1.058)">Requests / sec</span></h2><svg class="plot" width="652" height="258" viewBox="73 2266 652 258"><path d="M164.25 2317.5H698M164.25 2346.5H698M164.25 2375.5H698M164.25 2405.5H698M164.25 2434.5H698M164.25 2464.5H698" stroke="#000" stroke-opacity="0.105" stroke-width="1" fill="none"/><path d="M221.5 2317V2465M310.5 2317V2465M399.5 2317V2465M488.5 2317V2465M577.5 2317V2465M666.5 2317V2465" stroke="#000" stroke-opacity="0.105" stroke-width="1" fill="none"/><polygon points="164.25,2470 164.25,2346 167.9,2404.5 172.35,2334.2 176.8,2404.5 181.25,2334.2 185.7,2404.5 190.15,2334.2 194.6,2404.5 199.05,2334.2 203.5,2404.5 207.95,2334.2 212.4,2404.5 216.85,2334.2 221.3,2404.5 225.75,2334.2 230.2,2404.5 234.65,2334.2 239.1,2404.5 243.55,2334.2 248,2404.5 252.45,2334.2 256.9,2404.5 261.35,2334.2 265.8,2404.5 270.25,2334.2 274.7,2404.5 279.15,2334.2 283.6,2404.5 288.05,2334.2 292.5,2404.5 296.95,2334.2 301.4,2404.5 305.85,2334.2 310.3,2404.5 314.75,2334.2 319.2,2404.5 323.65,2334.2 328.1,2404.5 332.55,2334.2 337,2404.5 341.45,2334.2 345.9,2404.5 350.35,2334.2 354.8,2404.5 359.25,2334.2 363.7,2404.5 368.15,2334.2 372.6,2404.5 377.05,2334.2 381.5,2404.5 385.95,2334.2 390.4,2404.5 394.85,2334.2 399.3,2404.5 403.75,2334.2 408.2,2404.5 412.65,2334.2 417.1,2404.5 421.55,2334.2 426,2404.5 430.45,2334.2 434.9,2404.5 439.35,2334.2 443.8,2404.5 448.25,2334.2 452.7,2404.5 457.15,2334.2 461.6,2404.5 466.05,2334.2 470.5,2404.5 474.95,2334.2 479.4,2404.5 483.85,2334.2 488.3,2404.5 492.75,2334.2 497.2,2404.5 501.65,2334.2 506.1,2404.5 510.55,2334.2 515,2404.5 519.45,2334.2 523.9,2404.5 528.35,2334.2 532.8,2404.5 537.25,2334.2 541.7,2404.5 546.15,2334.2 550.6,2404.5 555.05,2334.2 559.5,2404.5 563.95,2334.2 568.4,2404.5 572.85,2334.2 577.3,2404.5 581.75,2334.2 586.2,2404.5 590.65,2334.2 595.1,2404.5 599.55,2334.2 604,2404.5 608.45,2334.2 612.9,2404.5 617.35,2334.2 621.8,2404.5 626.25,2334.2 630.7,2404.5 635.15,2334.2 639.6,2404.5 644.05,2334.2 648.5,2404.5 652.95,2334.2 657.4,2404.5 661.85,2334.2 666.3,2404.5 670.75,2334.2 675.2,2404.5 679.65,2334.2 684.1,2404.5 688.55,2334.2 693,2404.5 697.45,2334.2 697.5,2360 697.5,2470" fill="#7eb26d"/><g fill="#24292e" font-size="12"><text transform="translate(158.75 2321.1) scale(1.112 1)" text-anchor="end">0.0500 req/s</text><text transform="translate(158.75 2350.1) scale(1.119 1)" text-anchor="end">0.0400 req/s</text><text transform="translate(158.75 2380.1) scale(1.114 1)" text-anchor="end">0.0300 req/s</text><text transform="translate(158.75 2409.1) scale(1.113 1)" text-anchor="end">0.0200 req/s</text><text transform="translate(158.75 2439.1) scale(1.076 1)" text-anchor="end">0.0100 req/s</text><text transform="translate(158.75 2468.1) scale(1.114 1)" text-anchor="end">0 req/s</text><text transform="translate(221.36 2483.1) scale(1.032 1)" text-anchor="middle">21:20</text><text transform="translate(310.32 2483.1) scale(1.036 1)" text-anchor="middle">21:30</text><text transform="translate(399.28 2483.1) scale(1.047 1)" text-anchor="middle">21:40</text><text transform="translate(488.24 2483.1) scale(1.032 1)" text-anchor="middle">21:50</text><text transform="translate(577.21 2483.1) scale(1.120 1)" text-anchor="middle" letter-spacing="0.02">22:00</text><text transform="translate(666.15 2483.1) scale(1.032 1)" text-anchor="middle">22:10</text></g></svg><ul class="legend" style="top:228px"><li><i style="background:#7eb26d"></i><span style="width:65.23px"><b style="transform:scaleX(1.070)">requests</b></span></li></ul></section>
<section class="panel" style="left:733px;top:2266px;width:652px;height:258px"><h2 class="ptitle"><span style="transform:scaleX(1.079)">Latency</span></h2><svg class="plot" width="652" height="258" viewBox="733 2266 652 258"><path d="M776.25 2317.5H1358M776.25 2341.5H1358M776.25 2366.5H1358M776.25 2390.5H1358M776.25 2415.5H1358M776.25 2439.5H1358M776.25 2464.5H1358" stroke="#000" stroke-opacity="0.105" stroke-width="1" fill="none"/><path d="M838.5 2317V2465M935.5 2317V2465M1032.5 2317V2465M1129.5 2317V2465M1226.5 2317V2465M1323.5 2317V2465" stroke="#000" stroke-opacity="0.105" stroke-width="1" fill="none"/><polygon points="776.25,2470 776.25,2342.3 1358,2342.3 1358,2470" fill="#7eb26d" fill-opacity="0.1"/><polyline points="776.25,2342.3 1358,2342.3" fill="none" stroke="#7eb26d" stroke-width="1"/><g fill="#24292e" font-size="12"><text transform="translate(770.75 2321.1) scale(1.080 1)" text-anchor="end">6 ms</text><text transform="translate(770.75 2345.1) scale(1.074 1)" text-anchor="end">5 ms</text><text transform="translate(770.75 2370.1) scale(1.092 1)" text-anchor="end">4 ms</text><text transform="translate(770.75 2394.1) scale(1.079 1)" text-anchor="end">3 ms</text><text transform="translate(770.75 2419.1) scale(1.075 1)" text-anchor="end">2 ms</text><text transform="translate(770.75 2443.1) scale(0.980 1)" text-anchor="end">1 ms</text><text transform="translate(770.75 2468.1) scale(1.085 1)" text-anchor="end">0 ms</text><text transform="translate(838.5 2483.1) scale(1.032 1)" text-anchor="middle">21:20</text><text transform="translate(935.46 2483.1) scale(1.036 1)" text-anchor="middle">21:30</text><text transform="translate(1032.41 2483.1) scale(1.047 1)" text-anchor="middle">21:40</text><text transform="translate(1129.37 2483.1) scale(1.032 1)" text-anchor="middle">21:50</text><text transform="translate(1226.34 2483.1) scale(1.120 1)" text-anchor="middle" letter-spacing="0.02">22:00</text><text transform="translate(1323.29 2483.1) scale(1.032 1)" text-anchor="middle">22:10</text></g></svg><ul class="legend" style="top:228px"><li><i style="background:#7eb26d"></i><span style="width:103.1px"><b style="transform:scaleX(1.088)">99th Percentile</b></span></li><li><i style="background:#eab839"></i><span style="width:104.2px"><b style="transform:scaleX(1.102)">50th Percentile</b></span></li><li><i style="background:#6ed0e0"></i><span style="width:62.58px"><b style="transform:scaleX(1.047)">Average</b></span></li></ul></section>
</main></div>
<nav class="sidemenu"><svg style="left:17px;top:19px" width="23" height="26" viewBox="0 0 23 26"><defs><linearGradient id="gl" x1="0" y1="1" x2="0" y2="0"><stop offset="0" stop-color="#fbca0a"/><stop offset="0.5" stop-color="#f5911e"/><stop offset="1" stop-color="#f05a28"/></linearGradient></defs><path fill="url(#gl)" stroke="url(#gl)" stroke-width="0.8" stroke-linejoin="round" d="M11.8 0.8L14.4 3.9L19 3.3L20 5.9L21.1 8L22.1 11L21 15.2L22.1 18.8L19 19.8L15.9 25L11.8 22.4L5.1 23.9L5.6 19.8L0 15.2L3.6 11.6L2.3 4.9L8.2 4.6Z"/><circle cx="12.6" cy="13.4" r="6" fill="#fff"/><path fill="none" stroke="url(#gl)" stroke-width="2" stroke-linecap="round" d="M13.8 16.2c-2.100.3-3.500-1.100-3.300-2.800.2-1.900 2-3 3.900-2.600 2.100.5 3.300 2.400 2.900 4.500"/><path fill="none" stroke="#fff" stroke-width="1.400" stroke-linecap="round" d="M14.300 6.600c3.200.2 5.800 2.600 6.300 5.800"/></svg><svg style="left:18px;top:70px" width="23" height="23" viewBox="0 0 23 23"><circle cx="9" cy="9" r="8" fill="none" stroke="#52575c" stroke-width="1.8"/><path d="M14.76 14.76L19.64 19.64" stroke="#52575c" stroke-width="1.8" stroke-linecap="round"/></svg><svg style="left:17.5px;top:117.5px" width="21" height="21" viewBox="0 0 21 21"><polygon points="10.5,1.6 13.2,7.18 19.34,8.03 14.87,12.32 15.97,18.42 10.5,15.5 5.03,18.42 6.13,12.32 1.66,8.03 7.8,7.18" fill="none" stroke="#52575c" stroke-width="1.8" stroke-linejoin="round"/></svg><div class="active"></div><svg style="left:18px;top:166px" width="20" height="20" viewBox="0 0 20 20"><rect x="0.95" y="0.95" width="6.8" height="6.8" rx="0.8" fill="none" stroke="#111418" stroke-width="1.9"/><rect x="0.95" y="12.25" width="6.8" height="6.8" rx="0.8" fill="none" stroke="#111418" stroke-width="1.9"/><rect x="12.25" y="0.95" width="6.8" height="6.8" rx="0.8" fill="none" stroke="#111418" stroke-width="1.9"/><rect x="12.25" y="12.25" width="6.8" height="6.8" rx="0.8" fill="none" stroke="#111418" stroke-width="1.9"/></svg><svg style="left:19px;top:213.7px" width="18" height="22" viewBox="0 0 18 22"><path d="M9 1.200V3.200M4 13V8.500a5 5 0 0 1 10 0V13M4 13H14l1.6 3.100H2.400zM6.6 17.400a2.5 2.5 0 0 0 4.8 0" fill="none" stroke="#52575c" stroke-width="1.8" stroke-linejoin="round" stroke-linecap="round"/></svg><svg style="left:19px;top:2309px" width="18" height="22" viewBox="0 0 18 22"><path d="M2 7.500V3.500a1.6 1.6 0 0 1 1.6-1.600H14.400a1.6 1.6 0 0 1 1.6 1.600V18.500a1.6 1.6 0 0 1-1.6 1.600H3.600a1.6 1.6 0 0 1-1.6-1.600V14.500M1.5 11H12M8 6.500L12.5 11 8 15.5" fill="none" stroke="#52575c" stroke-width="1.8" stroke-linecap="round" stroke-linejoin="round"/></svg><svg style="left:17px;top:2357px" width="22" height="22" viewBox="0 0 22 22"><circle cx="11" cy="11" r="9" fill="none" stroke="#52575c" stroke-width="1.8"/><path d="M8.6 8.600a2.5 2.5 0 1 1 3.6 2.200c-.8.5-1.2 1-1.2 1.9" fill="none" stroke="#52575c" stroke-width="1.7" stroke-linecap="round"/><circle cx="11" cy="15.3" r="1.1" fill="#52575c"/></svg><div class="toggle"><svg style="left:0px;top:0px" width="22" height="22" viewBox="0 0 22 22"><path d="M9.2 7.1L13 10.9 9.2 14.7" fill="none" stroke="#1e2228" stroke-width="2" stroke-linecap="round" stroke-linejoin="round"/></svg></div></nav>
</body></html>
